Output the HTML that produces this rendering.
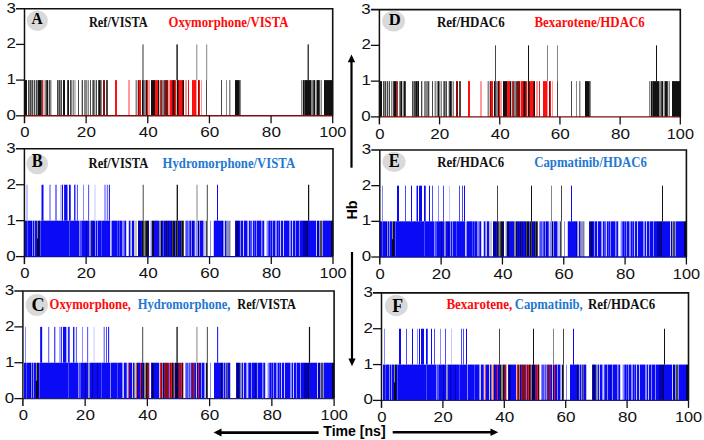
<!DOCTYPE html><html><head><meta charset="utf-8"><style>html,body{margin:0;padding:0;background:#fff;width:704px;height:440px;overflow:hidden}svg{display:block}.t{font-family:"Liberation Sans",sans-serif;font-size:14.6px;fill:#111}.h{font-family:"Liberation Serif",serif;font-weight:bold;font-size:13.5px}.l{font-family:"Liberation Serif",serif;font-weight:bold;font-size:17px;fill:#000}</style></head><body>
<svg width="704" height="440" viewBox="0 0 704 440">
<rect x="25" y="80.10" width="2" height="35.70" fill="#111111"/><rect x="28" y="80.10" width="1" height="35.70" fill="#464646"/><rect x="29" y="80.10" width="1" height="35.70" fill="#858585"/><rect x="30" y="80.10" width="1" height="35.70" fill="#464646"/><rect x="31" y="80.10" width="1" height="35.70" fill="#858585"/><rect x="32" y="80.10" width="1" height="35.70" fill="#464646"/><rect x="33" y="80.10" width="1" height="35.70" fill="#c4c4c4"/><rect x="34" y="80.10" width="1" height="35.70" fill="#464646"/><rect x="35" y="80.10" width="1" height="35.70" fill="#c4c4c4"/><rect x="36" y="80.10" width="1" height="35.70" fill="#464646"/><rect x="37" y="80.10" width="1" height="35.70" fill="#858585"/><rect x="38" y="80.10" width="3" height="35.70" fill="#111111"/><rect x="41" y="80.10" width="1" height="35.70" fill="#464646"/><rect x="42" y="80.10" width="1" height="35.70" fill="#ff1010"/><rect x="43" y="80.10" width="2" height="35.70" fill="#c4c4c4"/><rect x="45" y="80.10" width="1" height="35.70" fill="#858585"/><rect x="46" y="80.10" width="1" height="35.70" fill="#464646"/><rect x="47" y="80.10" width="1" height="35.70" fill="#111111"/><rect x="48" y="80.10" width="1" height="35.70" fill="#c4c4c4"/><rect x="49" y="80.10" width="1" height="35.70" fill="#464646"/><rect x="50" y="80.10" width="1" height="35.70" fill="#858585"/><rect x="51" y="80.10" width="1" height="35.70" fill="#c4c4c4"/><rect x="57" y="80.10" width="1" height="35.70" fill="#464646"/><rect x="58" y="80.10" width="1" height="35.70" fill="#858585"/><rect x="59" y="80.10" width="1" height="35.70" fill="#464646"/><rect x="60" y="80.10" width="1" height="35.70" fill="#858585"/><rect x="61" y="80.10" width="1" height="35.70" fill="#464646"/><rect x="63" y="80.10" width="2" height="35.70" fill="#111111"/><rect x="67" y="80.10" width="1" height="35.70" fill="#464646"/><rect x="68" y="80.10" width="1" height="35.70" fill="#111111"/><rect x="70" y="80.10" width="1" height="35.70" fill="#464646"/><rect x="71" y="80.10" width="1" height="35.70" fill="#858585"/><rect x="72" y="80.10" width="1" height="35.70" fill="#c4c4c4"/><rect x="73" y="80.10" width="1" height="35.70" fill="#858585"/><rect x="74" y="80.10" width="2" height="35.70" fill="#c4c4c4"/><rect x="78" y="80.10" width="1" height="35.70" fill="#464646"/><rect x="81" y="80.10" width="1" height="35.70" fill="#c4c4c4"/><rect x="82" y="80.10" width="1" height="35.70" fill="#464646"/><rect x="84" y="80.10" width="3" height="35.70" fill="#858585"/><rect x="87" y="80.10" width="1" height="35.70" fill="#c4c4c4"/><rect x="88" y="80.10" width="1" height="35.70" fill="#858585"/><rect x="90" y="80.10" width="1" height="35.70" fill="#464646"/><rect x="92" y="80.10" width="1" height="35.70" fill="#858585"/><rect x="93" y="80.10" width="1" height="35.70" fill="#464646"/><rect x="94" y="80.10" width="1" height="35.70" fill="#858585"/><rect x="95" y="80.10" width="1" height="35.70" fill="#c4c4c4"/><rect x="96" y="80.10" width="1" height="35.70" fill="#464646"/><rect x="98" y="80.10" width="1" height="35.70" fill="#464646"/><rect x="99" y="80.10" width="1" height="35.70" fill="#111111"/><rect x="100" y="80.10" width="1" height="35.70" fill="#464646"/><rect x="101" y="80.10" width="1" height="35.70" fill="#858585"/><rect x="103" y="80.10" width="2" height="35.70" fill="#8c0a0a"/><rect x="106" y="80.10" width="2" height="35.70" fill="#464646"/><rect x="115" y="80.10" width="2" height="35.70" fill="#ff1010"/><rect x="128" y="80.10" width="2" height="35.70" fill="#ff9a9a"/><rect x="135" y="80.10" width="1" height="35.70" fill="#c4c4c4"/><rect x="136" y="80.10" width="1" height="35.70" fill="#858585"/><rect x="137" y="80.10" width="1" height="35.70" fill="#c4c4c4"/><rect x="138" y="80.10" width="1" height="35.70" fill="#8c0a0a"/><rect x="139" y="80.10" width="2" height="35.70" fill="#ff1010"/><rect x="142" y="80.10" width="1" height="35.70" fill="#111111"/><rect x="143" y="80.10" width="1" height="35.70" fill="#464646"/><rect x="144" y="80.10" width="2" height="35.70" fill="#858585"/><rect x="146" y="80.10" width="1" height="35.70" fill="#111111"/><rect x="147" y="80.10" width="1" height="35.70" fill="#ff1010"/><rect x="148" y="80.10" width="2" height="35.70" fill="#ff9a9a"/><rect x="151" y="80.10" width="4" height="35.70" fill="#111111"/><rect x="155" y="80.10" width="3" height="35.70" fill="#ff1010"/><rect x="158" y="80.10" width="1" height="35.70" fill="#111111"/><rect x="159" y="80.10" width="1" height="35.70" fill="#c4c4c4"/><rect x="160" y="80.10" width="1" height="35.70" fill="#ff1010"/><rect x="161" y="80.10" width="1" height="35.70" fill="#464646"/><rect x="162" y="80.10" width="2" height="35.70" fill="#858585"/><rect x="164" y="80.10" width="1" height="35.70" fill="#464646"/><rect x="165" y="80.10" width="3" height="35.70" fill="#8c0a0a"/><rect x="168" y="80.10" width="2" height="35.70" fill="#ff9a9a"/><rect x="170" y="80.10" width="2" height="35.70" fill="#ff1010"/><rect x="172" y="80.10" width="1" height="35.70" fill="#8c0a0a"/><rect x="173" y="80.10" width="1" height="35.70" fill="#111111"/><rect x="174" y="80.10" width="1" height="35.70" fill="#8c0a0a"/><rect x="175" y="80.10" width="1" height="35.70" fill="#ff1010"/><rect x="176" y="80.10" width="1" height="35.70" fill="#c4c4c4"/><rect x="177" y="80.10" width="1" height="35.70" fill="#111111"/><rect x="178" y="80.10" width="1" height="35.70" fill="#8c0a0a"/><rect x="179" y="80.10" width="3" height="35.70" fill="#ff1010"/><rect x="182" y="80.10" width="1" height="35.70" fill="#8c0a0a"/><rect x="183" y="80.10" width="1" height="35.70" fill="#111111"/><rect x="185" y="80.10" width="2" height="35.70" fill="#ff9a9a"/><rect x="188" y="80.10" width="1" height="35.70" fill="#ff1010"/><rect x="192" y="80.10" width="4" height="35.70" fill="#ff1010"/><rect x="196" y="80.10" width="1" height="35.70" fill="#ff9a9a"/><rect x="198" y="80.10" width="1" height="35.70" fill="#8c0a0a"/><rect x="199" y="80.10" width="1" height="35.70" fill="#ff1010"/><rect x="201" y="80.10" width="1" height="35.70" fill="#ff9a9a"/><rect x="206" y="80.10" width="1" height="35.70" fill="#464646"/><rect x="221" y="80.10" width="1" height="35.70" fill="#464646"/><rect x="226" y="80.10" width="1" height="35.70" fill="#858585"/><rect x="229" y="80.10" width="1" height="35.70" fill="#858585"/><rect x="230" y="80.10" width="1" height="35.70" fill="#c4c4c4"/><rect x="235" y="80.10" width="4" height="35.70" fill="#111111"/><rect x="239" y="80.10" width="1" height="35.70" fill="#464646"/><rect x="240" y="80.10" width="1" height="35.70" fill="#858585"/><rect x="301" y="80.10" width="1" height="35.70" fill="#858585"/><rect x="302" y="80.10" width="1" height="35.70" fill="#c4c4c4"/><rect x="303" y="80.10" width="1" height="35.70" fill="#111111"/><rect x="304" y="80.10" width="1" height="35.70" fill="#464646"/><rect x="305" y="80.10" width="6" height="35.70" fill="#111111"/><rect x="311" y="80.10" width="2" height="35.70" fill="#858585"/><rect x="313" y="80.10" width="1" height="35.70" fill="#464646"/><rect x="314" y="80.10" width="1" height="35.70" fill="#111111"/><rect x="315" y="80.10" width="1" height="35.70" fill="#c4c4c4"/><rect x="316" y="80.10" width="1" height="35.70" fill="#858585"/><rect x="317" y="80.10" width="2" height="35.70" fill="#111111"/><rect x="319" y="80.10" width="1" height="35.70" fill="#464646"/><rect x="320" y="80.10" width="1" height="35.70" fill="#c4c4c4"/><rect x="321" y="80.10" width="1" height="35.70" fill="#858585"/><rect x="324" y="80.10" width="9" height="35.70" fill="#111111"/><rect x="142.45" y="44.40" width="1.1" height="35.70" fill="#464646"/><rect x="176.40" y="44.40" width="1.4" height="35.70" fill="#111111"/><rect x="196.30" y="44.40" width="1.0" height="35.70" fill="#858585"/><rect x="206.20" y="44.40" width="1.0" height="35.70" fill="#858585"/><rect x="307.60" y="44.40" width="1.2" height="35.70" fill="#111111"/>
<line x1="24.5" y1="115.8" x2="332.7" y2="115.8" stroke="#7a1010" stroke-width="1.4"/>
<path d="M16.0 8.7H332.7V115.8" fill="none" stroke="#111" stroke-width="1.6"/>
<path d="M24.5 8.7V123.3" fill="none" stroke="#111" stroke-width="1.5"/>
<path d="M16.0 115.80H24.5" stroke="#111" stroke-width="1.3"/>
<path d="M16.0 80.10H24.5" stroke="#111" stroke-width="1.3"/>
<path d="M16.0 44.40H24.5" stroke="#111" stroke-width="1.3"/>
<path d="M86.14 115.8V123.3" stroke="#111" stroke-width="1.3"/>
<path d="M147.78 115.8V123.3" stroke="#111" stroke-width="1.3"/>
<path d="M209.42 115.8V123.3" stroke="#111" stroke-width="1.3"/>
<path d="M271.06 115.8V123.3" stroke="#111" stroke-width="1.3"/>
<path d="M332.70 115.8V123.3" stroke="#111" stroke-width="1.3"/>
<text class="t" x="6.42" y="119.80" textLength="9.43" lengthAdjust="spacingAndGlyphs">0</text>
<text class="t" x="6.57" y="84.10" textLength="9.43" lengthAdjust="spacingAndGlyphs">1</text>
<text class="t" x="6.57" y="48.40" textLength="9.43" lengthAdjust="spacingAndGlyphs">2</text>
<text class="t" x="6.42" y="12.70" textLength="9.43" lengthAdjust="spacingAndGlyphs">3</text>
<text class="t" x="20.30" y="137.40" textLength="9.27" lengthAdjust="spacingAndGlyphs">0</text>
<text class="t" x="76.88" y="137.40" textLength="19.03" lengthAdjust="spacingAndGlyphs">20</text>
<text class="t" x="138.74" y="137.40" textLength="19.03" lengthAdjust="spacingAndGlyphs">40</text>
<text class="t" x="200.16" y="137.40" textLength="19.03" lengthAdjust="spacingAndGlyphs">60</text>
<text class="t" x="261.88" y="137.40" textLength="19.03" lengthAdjust="spacingAndGlyphs">80</text>
<text class="t" x="319.18" y="137.40" textLength="27.21" lengthAdjust="spacingAndGlyphs">100</text>
<ellipse cx="37.35" cy="20.7" rx="10.55" ry="10.2" fill="#d9d9d9"/>
<text class="l" x="31.49" y="23.7" style="font-size:16.84px" textLength="11.10" lengthAdjust="spacingAndGlyphs">A</text>
<text class="h" x="88.98" y="27.1" fill="#111" style="font-size:13.8px" textLength="58.68" lengthAdjust="spacingAndGlyphs">Ref/VISTA</text>
<text class="h" x="168.53" y="27.1" fill="#ff0a0a" style="font-size:13.8px" textLength="119.87" lengthAdjust="spacingAndGlyphs">Oxymorphone/VISTA</text>
<rect x="25" y="220.67" width="2" height="35.93" fill="#0a0af5"/><rect x="27" y="220.67" width="1" height="35.93" fill="#4a4aff"/><rect x="28" y="220.67" width="3" height="35.93" fill="#0a0af5"/><rect x="31" y="220.67" width="1" height="35.93" fill="#0000b0"/><rect x="32" y="220.67" width="1" height="35.93" fill="#8a8aff"/><rect x="33" y="220.67" width="1" height="35.93" fill="#0a0af5"/><rect x="34" y="220.67" width="1" height="35.93" fill="#8a8aff"/><rect x="35" y="220.67" width="2" height="35.93" fill="#0a0af5"/><rect x="37" y="220.67" width="1" height="35.93" fill="#858585"/><rect x="38" y="220.67" width="1" height="35.93" fill="#111111"/><rect x="39" y="220.67" width="1" height="35.93" fill="#0000b0"/><rect x="40" y="220.67" width="1" height="35.93" fill="#4a4aff"/><rect x="41" y="220.67" width="28" height="35.93" fill="#0a0af5"/><rect x="69" y="220.67" width="1" height="35.93" fill="#4a4aff"/><rect x="70" y="220.67" width="9" height="35.93" fill="#0a0af5"/><rect x="79" y="220.67" width="1" height="35.93" fill="#8a8aff"/><rect x="80" y="220.67" width="2" height="35.93" fill="#4a4aff"/><rect x="82" y="220.67" width="4" height="35.93" fill="#0a0af5"/><rect x="86" y="220.67" width="1" height="35.93" fill="#0000b0"/><rect x="87" y="220.67" width="2" height="35.93" fill="#0a0af5"/><rect x="89" y="220.67" width="1" height="35.93" fill="#8a8aff"/><rect x="90" y="220.67" width="1" height="35.93" fill="#858585"/><rect x="91" y="220.67" width="2" height="35.93" fill="#0a0af5"/><rect x="93" y="220.67" width="1" height="35.93" fill="#0000b0"/><rect x="94" y="220.67" width="1" height="35.93" fill="#0a0af5"/><rect x="95" y="220.67" width="1" height="35.93" fill="#8a8aff"/><rect x="96" y="220.67" width="1" height="35.93" fill="#0a0af5"/><rect x="97" y="220.67" width="1" height="35.93" fill="#8a8aff"/><rect x="98" y="220.67" width="3" height="35.93" fill="#0a0af5"/><rect x="101" y="220.67" width="1" height="35.93" fill="#4a4aff"/><rect x="102" y="220.67" width="8" height="35.93" fill="#0a0af5"/><rect x="110" y="220.67" width="1" height="35.93" fill="#c8c8ff"/><rect x="111" y="220.67" width="1" height="35.93" fill="#8a8aff"/><rect x="112" y="220.67" width="5" height="35.93" fill="#0a0af5"/><rect x="117" y="220.67" width="1" height="35.93" fill="#4a4aff"/><rect x="118" y="220.67" width="1" height="35.93" fill="#0a0af5"/><rect x="119" y="220.67" width="1" height="35.93" fill="#4a4aff"/><rect x="120" y="220.67" width="2" height="35.93" fill="#0a0af5"/><rect x="122" y="220.67" width="2" height="35.93" fill="#8a8aff"/><rect x="124" y="220.67" width="1" height="35.93" fill="#4a4aff"/><rect x="125" y="220.67" width="1" height="35.93" fill="#0a0af5"/><rect x="126" y="220.67" width="1" height="35.93" fill="#c8c8ff"/><rect x="128" y="220.67" width="1" height="35.93" fill="#c8c8ff"/><rect x="129" y="220.67" width="1" height="35.93" fill="#0a0af5"/><rect x="130" y="220.67" width="1" height="35.93" fill="#8a8aff"/><rect x="131" y="220.67" width="1" height="35.93" fill="#c8c8ff"/><rect x="132" y="220.67" width="2" height="35.93" fill="#0a0af5"/><rect x="134" y="220.67" width="3" height="35.93" fill="#c4c4c4"/><rect x="138" y="220.67" width="3" height="35.93" fill="#0000b0"/><rect x="141" y="220.67" width="1" height="35.93" fill="#0a0af5"/><rect x="142" y="220.67" width="1" height="35.93" fill="#111111"/><rect x="143" y="220.67" width="1" height="35.93" fill="#464646"/><rect x="144" y="220.67" width="1" height="35.93" fill="#858585"/><rect x="145" y="220.67" width="1" height="35.93" fill="#464646"/><rect x="146" y="220.67" width="2" height="35.93" fill="#111111"/><rect x="148" y="220.67" width="1" height="35.93" fill="#0000b0"/><rect x="150" y="220.67" width="1" height="35.93" fill="#c8c8ff"/><rect x="151" y="220.67" width="1" height="35.93" fill="#8a8aff"/><rect x="152" y="220.67" width="1" height="35.93" fill="#111111"/><rect x="153" y="220.67" width="1" height="35.93" fill="#00004a"/><rect x="154" y="220.67" width="5" height="35.93" fill="#0a0af5"/><rect x="159" y="220.67" width="2" height="35.93" fill="#858585"/><rect x="161" y="220.67" width="1" height="35.93" fill="#00004a"/><rect x="162" y="220.67" width="1" height="35.93" fill="#0a0af5"/><rect x="163" y="220.67" width="1" height="35.93" fill="#4a4aff"/><rect x="164" y="220.67" width="1" height="35.93" fill="#0000b0"/><rect x="165" y="220.67" width="1" height="35.93" fill="#0a0af5"/><rect x="166" y="220.67" width="1" height="35.93" fill="#111111"/><rect x="167" y="220.67" width="1" height="35.93" fill="#0a0af5"/><rect x="168" y="220.67" width="1" height="35.93" fill="#0000b0"/><rect x="169" y="220.67" width="2" height="35.93" fill="#0a0af5"/><rect x="171" y="220.67" width="1" height="35.93" fill="#0000b0"/><rect x="172" y="220.67" width="1" height="35.93" fill="#464646"/><rect x="173" y="220.67" width="1" height="35.93" fill="#111111"/><rect x="174" y="220.67" width="1" height="35.93" fill="#00004a"/><rect x="175" y="220.67" width="1" height="35.93" fill="#4a4aff"/><rect x="176" y="220.67" width="1" height="35.93" fill="#111111"/><rect x="177" y="220.67" width="1" height="35.93" fill="#464646"/><rect x="178" y="220.67" width="1" height="35.93" fill="#0000b0"/><rect x="179" y="220.67" width="1" height="35.93" fill="#0a0af5"/><rect x="180" y="220.67" width="1" height="35.93" fill="#0000b0"/><rect x="181" y="220.67" width="1" height="35.93" fill="#464646"/><rect x="182" y="220.67" width="1" height="35.93" fill="#111111"/><rect x="183" y="220.67" width="1" height="35.93" fill="#464646"/><rect x="185" y="220.67" width="1" height="35.93" fill="#8a8aff"/><rect x="186" y="220.67" width="2" height="35.93" fill="#4a4aff"/><rect x="188" y="220.67" width="1" height="35.93" fill="#8a8aff"/><rect x="189" y="220.67" width="1" height="35.93" fill="#4a4aff"/><rect x="190" y="220.67" width="1" height="35.93" fill="#0a0af5"/><rect x="191" y="220.67" width="1" height="35.93" fill="#8a8aff"/><rect x="192" y="220.67" width="1" height="35.93" fill="#0000b0"/><rect x="193" y="220.67" width="1" height="35.93" fill="#0a0af5"/><rect x="194" y="220.67" width="1" height="35.93" fill="#4a4aff"/><rect x="195" y="220.67" width="1" height="35.93" fill="#c8c8ff"/><rect x="196" y="220.67" width="2" height="35.93" fill="#8a8aff"/><rect x="198" y="220.67" width="1" height="35.93" fill="#00004a"/><rect x="199" y="220.67" width="1" height="35.93" fill="#8a8aff"/><rect x="200" y="220.67" width="3" height="35.93" fill="#0a0af5"/><rect x="203" y="220.67" width="1" height="35.93" fill="#8a8aff"/><rect x="204" y="220.67" width="2" height="35.93" fill="#c8c8ff"/><rect x="206" y="220.67" width="1" height="35.93" fill="#464646"/><rect x="207" y="220.67" width="1" height="35.93" fill="#858585"/><rect x="210" y="220.67" width="1" height="35.93" fill="#8a8aff"/><rect x="213" y="220.67" width="1" height="35.93" fill="#c8c8ff"/><rect x="214" y="220.67" width="8" height="35.93" fill="#0a0af5"/><rect x="222" y="220.67" width="1" height="35.93" fill="#0000b0"/><rect x="223" y="220.67" width="1" height="35.93" fill="#8a8aff"/><rect x="224" y="220.67" width="1" height="35.93" fill="#c8c8ff"/><rect x="225" y="220.67" width="1" height="35.93" fill="#0a0af5"/><rect x="226" y="220.67" width="1" height="35.93" fill="#858585"/><rect x="227" y="220.67" width="2" height="35.93" fill="#8a8aff"/><rect x="229" y="220.67" width="1" height="35.93" fill="#858585"/><rect x="230" y="220.67" width="1" height="35.93" fill="#c4c4c4"/><rect x="235" y="220.67" width="1" height="35.93" fill="#0a0af5"/><rect x="236" y="220.67" width="1" height="35.93" fill="#0000b0"/><rect x="237" y="220.67" width="1" height="35.93" fill="#00004a"/><rect x="238" y="220.67" width="1" height="35.93" fill="#0000b0"/><rect x="239" y="220.67" width="1" height="35.93" fill="#0a0af5"/><rect x="240" y="220.67" width="1" height="35.93" fill="#8a8aff"/><rect x="241" y="220.67" width="2" height="35.93" fill="#0a0af5"/><rect x="243" y="220.67" width="1" height="35.93" fill="#c8c8ff"/><rect x="244" y="220.67" width="3" height="35.93" fill="#0a0af5"/><rect x="247" y="220.67" width="1" height="35.93" fill="#8a8aff"/><rect x="248" y="220.67" width="1" height="35.93" fill="#c8c8ff"/><rect x="249" y="220.67" width="1" height="35.93" fill="#0a0af5"/><rect x="250" y="220.67" width="2" height="35.93" fill="#4a4aff"/><rect x="252" y="220.67" width="1" height="35.93" fill="#c8c8ff"/><rect x="253" y="220.67" width="1" height="35.93" fill="#0a0af5"/><rect x="254" y="220.67" width="1" height="35.93" fill="#4a4aff"/><rect x="255" y="220.67" width="1" height="35.93" fill="#0a0af5"/><rect x="256" y="220.67" width="1" height="35.93" fill="#8a8aff"/><rect x="257" y="220.67" width="4" height="35.93" fill="#0a0af5"/><rect x="261" y="220.67" width="1" height="35.93" fill="#8a8aff"/><rect x="262" y="220.67" width="1" height="35.93" fill="#4a4aff"/><rect x="263" y="220.67" width="1" height="35.93" fill="#0a0af5"/><rect x="264" y="220.67" width="1" height="35.93" fill="#c8c8ff"/><rect x="266" y="220.67" width="1" height="35.93" fill="#c8c8ff"/><rect x="267" y="220.67" width="1" height="35.93" fill="#8a8aff"/><rect x="268" y="220.67" width="1" height="35.93" fill="#4a4aff"/><rect x="269" y="220.67" width="1" height="35.93" fill="#0a0af5"/><rect x="270" y="220.67" width="1" height="35.93" fill="#4a4aff"/><rect x="271" y="220.67" width="1" height="35.93" fill="#0a0af5"/><rect x="272" y="220.67" width="1" height="35.93" fill="#8a8aff"/><rect x="273" y="220.67" width="2" height="35.93" fill="#0a0af5"/><rect x="275" y="220.67" width="2" height="35.93" fill="#8a8aff"/><rect x="277" y="220.67" width="1" height="35.93" fill="#0a0af5"/><rect x="278" y="220.67" width="1" height="35.93" fill="#4a4aff"/><rect x="279" y="220.67" width="1" height="35.93" fill="#0a0af5"/><rect x="280" y="220.67" width="1" height="35.93" fill="#c8c8ff"/><rect x="281" y="220.67" width="2" height="35.93" fill="#0a0af5"/><rect x="283" y="220.67" width="1" height="35.93" fill="#c8c8ff"/><rect x="284" y="220.67" width="5" height="35.93" fill="#0a0af5"/><rect x="289" y="220.67" width="2" height="35.93" fill="#8a8aff"/><rect x="291" y="220.67" width="1" height="35.93" fill="#0a0af5"/><rect x="292" y="220.67" width="1" height="35.93" fill="#c8c8ff"/><rect x="293" y="220.67" width="2" height="35.93" fill="#0a0af5"/><rect x="295" y="220.67" width="1" height="35.93" fill="#8a8aff"/><rect x="296" y="220.67" width="3" height="35.93" fill="#0a0af5"/><rect x="299" y="220.67" width="1" height="35.93" fill="#8a8aff"/><rect x="300" y="220.67" width="3" height="35.93" fill="#0a0af5"/><rect x="303" y="220.67" width="4" height="35.93" fill="#0000b0"/><rect x="307" y="220.67" width="1" height="35.93" fill="#00004a"/><rect x="308" y="220.67" width="8" height="35.93" fill="#0a0af5"/><rect x="316" y="220.67" width="1" height="35.93" fill="#c8c8ff"/><rect x="317" y="220.67" width="2" height="35.93" fill="#0000b0"/><rect x="319" y="220.67" width="1" height="35.93" fill="#8a8aff"/><rect x="320" y="220.67" width="2" height="35.93" fill="#464646"/><rect x="322" y="220.67" width="1" height="35.93" fill="#8a8aff"/><rect x="323" y="220.67" width="8" height="35.93" fill="#0a0af5"/><rect x="331" y="220.67" width="2" height="35.93" fill="#00004a"/><rect x="37" y="238.63" width="1" height="17.97" fill="#0a0a0a"/><rect x="38" y="238.63" width="1" height="17.97" fill="#0a0a0a"/><rect x="26.50" y="184.73" width="1" height="35.93" fill="#8a8aff"/><rect x="41.50" y="184.73" width="2" height="35.93" fill="#0a0af5"/><rect x="49.50" y="184.73" width="1" height="35.93" fill="#4a4aff"/><rect x="55.50" y="184.73" width="1" height="35.93" fill="#0a0af5"/><rect x="60.50" y="184.73" width="1" height="35.93" fill="#8a8aff"/><rect x="62.00" y="184.73" width="1" height="35.93" fill="#0a0af5"/><rect x="64.10" y="184.73" width="3.4" height="35.93" fill="#0a0af5"/><rect x="69.00" y="184.73" width="1" height="35.93" fill="#0a0af5"/><rect x="70.00" y="184.73" width="1" height="35.93" fill="#4a4aff"/><rect x="74.15" y="184.73" width="1.3" height="35.93" fill="#0a0af5"/><rect x="76.90" y="184.73" width="1" height="35.93" fill="#4a4aff"/><rect x="83.00" y="184.73" width="1" height="35.93" fill="#8a8aff"/><rect x="88.10" y="184.73" width="1" height="35.93" fill="#4a4aff"/><rect x="94.50" y="184.73" width="1" height="35.93" fill="#c8c8ff"/><rect x="104.50" y="184.73" width="1" height="35.93" fill="#4a4aff"/><rect x="106.80" y="184.73" width="1" height="35.93" fill="#4a4aff"/><rect x="108.90" y="184.73" width="1" height="35.93" fill="#0a0af5"/><rect x="142.70" y="184.73" width="1" height="35.93" fill="#464646"/><rect x="176.65" y="184.73" width="1.3" height="35.93" fill="#111111"/><rect x="196.50" y="184.73" width="1" height="35.93" fill="#858585"/><rect x="206.80" y="184.73" width="1" height="35.93" fill="#464646"/><rect x="217.00" y="184.73" width="1" height="35.93" fill="#0a0af5"/><rect x="308.00" y="184.73" width="1.2" height="35.93" fill="#111111"/>
<line x1="24.4" y1="256.6" x2="333.0" y2="256.6" stroke="#1010a0" stroke-width="1.4"/>
<path d="M15.899999999999999 148.8H333.0V256.6" fill="none" stroke="#111" stroke-width="1.6"/>
<path d="M24.4 148.8V264.1" fill="none" stroke="#111" stroke-width="1.5"/>
<path d="M15.899999999999999 256.60H24.4" stroke="#111" stroke-width="1.3"/>
<path d="M15.899999999999999 220.67H24.4" stroke="#111" stroke-width="1.3"/>
<path d="M15.899999999999999 184.73H24.4" stroke="#111" stroke-width="1.3"/>
<path d="M86.12 256.6V264.1" stroke="#111" stroke-width="1.3"/>
<path d="M147.84 256.6V264.1" stroke="#111" stroke-width="1.3"/>
<path d="M209.56 256.6V264.1" stroke="#111" stroke-width="1.3"/>
<path d="M271.28 256.6V264.1" stroke="#111" stroke-width="1.3"/>
<path d="M333.00 256.6V264.1" stroke="#111" stroke-width="1.3"/>
<text class="t" x="6.32" y="260.60" textLength="9.43" lengthAdjust="spacingAndGlyphs">0</text>
<text class="t" x="6.47" y="224.67" textLength="9.43" lengthAdjust="spacingAndGlyphs">1</text>
<text class="t" x="6.47" y="188.73" textLength="9.43" lengthAdjust="spacingAndGlyphs">2</text>
<text class="t" x="6.32" y="152.80" textLength="9.43" lengthAdjust="spacingAndGlyphs">3</text>
<text class="t" x="20.20" y="278.20" textLength="9.27" lengthAdjust="spacingAndGlyphs">0</text>
<text class="t" x="76.86" y="278.20" textLength="19.03" lengthAdjust="spacingAndGlyphs">20</text>
<text class="t" x="138.80" y="278.20" textLength="19.03" lengthAdjust="spacingAndGlyphs">40</text>
<text class="t" x="200.30" y="278.20" textLength="19.03" lengthAdjust="spacingAndGlyphs">60</text>
<text class="t" x="262.10" y="278.20" textLength="19.03" lengthAdjust="spacingAndGlyphs">80</text>
<text class="t" x="319.48" y="278.20" textLength="27.21" lengthAdjust="spacingAndGlyphs">100</text>
<ellipse cx="37.2" cy="163.85" rx="10.7" ry="10.35" fill="#d9d9d9"/>
<text class="l" x="31.67" y="167.1" style="font-size:17.89px" textLength="10.92" lengthAdjust="spacingAndGlyphs">B</text>
<text class="h" x="88.58" y="167.5" fill="#111" style="font-size:14.1px" textLength="59.65" lengthAdjust="spacingAndGlyphs">Ref/VISTA</text>
<text class="h" x="162.57" y="167.5" fill="#1f78d1" style="font-size:14.1px" textLength="132.54" lengthAdjust="spacingAndGlyphs">Hydromorphone/VISTA</text>
<rect x="24" y="362.73" width="2" height="35.87" fill="#0a0af5"/><rect x="26" y="362.73" width="1" height="35.87" fill="#4a4aff"/><rect x="27" y="362.73" width="3" height="35.87" fill="#0a0af5"/><rect x="30" y="362.73" width="1" height="35.87" fill="#0000b0"/><rect x="31" y="362.73" width="1" height="35.87" fill="#8a8aff"/><rect x="32" y="362.73" width="1" height="35.87" fill="#0a0af5"/><rect x="33" y="362.73" width="1" height="35.87" fill="#8a8aff"/><rect x="34" y="362.73" width="2" height="35.87" fill="#0a0af5"/><rect x="36" y="362.73" width="1" height="35.87" fill="#858585"/><rect x="37" y="362.73" width="1" height="35.87" fill="#111111"/><rect x="38" y="362.73" width="1" height="35.87" fill="#0000b0"/><rect x="39" y="362.73" width="1" height="35.87" fill="#4a4aff"/><rect x="40" y="362.73" width="28" height="35.87" fill="#0a0af5"/><rect x="68" y="362.73" width="1" height="35.87" fill="#4a4aff"/><rect x="69" y="362.73" width="9" height="35.87" fill="#0a0af5"/><rect x="78" y="362.73" width="1" height="35.87" fill="#8a8aff"/><rect x="79" y="362.73" width="2" height="35.87" fill="#4a4aff"/><rect x="81" y="362.73" width="4" height="35.87" fill="#0a0af5"/><rect x="85" y="362.73" width="1" height="35.87" fill="#0000b0"/><rect x="86" y="362.73" width="2" height="35.87" fill="#0a0af5"/><rect x="88" y="362.73" width="1" height="35.87" fill="#8a8aff"/><rect x="89" y="362.73" width="1" height="35.87" fill="#858585"/><rect x="90" y="362.73" width="2" height="35.87" fill="#0a0af5"/><rect x="92" y="362.73" width="1" height="35.87" fill="#0000b0"/><rect x="93" y="362.73" width="4" height="35.87" fill="#0a0af5"/><rect x="97" y="362.73" width="1" height="35.87" fill="#0000b0"/><rect x="98" y="362.73" width="3" height="35.87" fill="#0a0af5"/><rect x="101" y="362.73" width="1" height="35.87" fill="#4a4aff"/><rect x="102" y="362.73" width="8" height="35.87" fill="#0a0af5"/><rect x="110" y="362.73" width="1" height="35.87" fill="#8a8aff"/><rect x="111" y="362.73" width="6" height="35.87" fill="#0a0af5"/><rect x="117" y="362.73" width="1" height="35.87" fill="#4a4aff"/><rect x="118" y="362.73" width="4" height="35.87" fill="#0a0af5"/><rect x="122" y="362.73" width="1" height="35.87" fill="#8a8aff"/><rect x="123" y="362.73" width="1" height="35.87" fill="#c8c8ff"/><rect x="124" y="362.73" width="2" height="35.87" fill="#0a0af5"/><rect x="126" y="362.73" width="1" height="35.87" fill="#4a4aff"/><rect x="127" y="362.73" width="1" height="35.87" fill="#c8c8ff"/><rect x="128" y="362.73" width="1" height="35.87" fill="#ff4a2a"/><rect x="129" y="362.73" width="3" height="35.87" fill="#0a0af5"/><rect x="132" y="362.73" width="1" height="35.87" fill="#c8c8ff"/><rect x="133" y="362.73" width="1" height="35.87" fill="#0a0af5"/><rect x="134" y="362.73" width="1" height="35.87" fill="#858585"/><rect x="135" y="362.73" width="1" height="35.87" fill="#c4c4c4"/><rect x="136" y="362.73" width="1" height="35.87" fill="#ff4a2a"/><rect x="137" y="362.73" width="1" height="35.87" fill="#0000b0"/><rect x="138" y="362.73" width="2" height="35.87" fill="#0a0af5"/><rect x="140" y="362.73" width="1" height="35.87" fill="#ff1010"/><rect x="141" y="362.73" width="1" height="35.87" fill="#0000b0"/><rect x="142" y="362.73" width="1" height="35.87" fill="#0a0af5"/><rect x="143" y="362.73" width="1" height="35.87" fill="#111111"/><rect x="144" y="362.73" width="2" height="35.87" fill="#858585"/><rect x="146" y="362.73" width="1" height="35.87" fill="#111111"/><rect x="147" y="362.73" width="1" height="35.87" fill="#8c0a0a"/><rect x="148" y="362.73" width="1" height="35.87" fill="#6a1a8a"/><rect x="149" y="362.73" width="1" height="35.87" fill="#ff9a9a"/><rect x="151" y="362.73" width="1" height="35.87" fill="#0a0af5"/><rect x="152" y="362.73" width="1" height="35.87" fill="#00004a"/><rect x="153" y="362.73" width="1" height="35.87" fill="#0000b0"/><rect x="154" y="362.73" width="5" height="35.87" fill="#0a0af5"/><rect x="159" y="362.73" width="1" height="35.87" fill="#c4c4c4"/><rect x="160" y="362.73" width="1" height="35.87" fill="#ff1010"/><rect x="161" y="362.73" width="1" height="35.87" fill="#8c0a0a"/><rect x="162" y="362.73" width="1" height="35.87" fill="#858585"/><rect x="163" y="362.73" width="1" height="35.87" fill="#0000b0"/><rect x="164" y="362.73" width="1" height="35.87" fill="#6a1a8a"/><rect x="165" y="362.73" width="3" height="35.87" fill="#8c0a0a"/><rect x="168" y="362.73" width="1" height="35.87" fill="#6a1a8a"/><rect x="169" y="362.73" width="1" height="35.87" fill="#b050c8"/><rect x="170" y="362.73" width="1" height="35.87" fill="#8c0a0a"/><rect x="171" y="362.73" width="1" height="35.87" fill="#ff1010"/><rect x="172" y="362.73" width="1" height="35.87" fill="#111111"/><rect x="173" y="362.73" width="1" height="35.87" fill="#464646"/><rect x="174" y="362.73" width="1" height="35.87" fill="#b050c8"/><rect x="175" y="362.73" width="3" height="35.87" fill="#00004a"/><rect x="178" y="362.73" width="1" height="35.87" fill="#8c0a0a"/><rect x="179" y="362.73" width="2" height="35.87" fill="#6a1a8a"/><rect x="181" y="362.73" width="1" height="35.87" fill="#ff1010"/><rect x="182" y="362.73" width="1" height="35.87" fill="#111111"/><rect x="183" y="362.73" width="1" height="35.87" fill="#ff9a9a"/><rect x="185" y="362.73" width="1" height="35.87" fill="#8a8aff"/><rect x="186" y="362.73" width="2" height="35.87" fill="#4a4aff"/><rect x="188" y="362.73" width="1" height="35.87" fill="#8a8aff"/><rect x="189" y="362.73" width="1" height="35.87" fill="#4a4aff"/><rect x="190" y="362.73" width="1" height="35.87" fill="#8a8aff"/><rect x="191" y="362.73" width="1" height="35.87" fill="#6a1a8a"/><rect x="192" y="362.73" width="1" height="35.87" fill="#8c0a0a"/><rect x="193" y="362.73" width="2" height="35.87" fill="#6a1a8a"/><rect x="195" y="362.73" width="1" height="35.87" fill="#0a0af5"/><rect x="196" y="362.73" width="1" height="35.87" fill="#c4c4c4"/><rect x="197" y="362.73" width="1" height="35.87" fill="#0000b0"/><rect x="198" y="362.73" width="1" height="35.87" fill="#ff1010"/><rect x="199" y="362.73" width="2" height="35.87" fill="#0a0af5"/><rect x="201" y="362.73" width="1" height="35.87" fill="#8a8aff"/><rect x="202" y="362.73" width="2" height="35.87" fill="#0a0af5"/><rect x="204" y="362.73" width="1" height="35.87" fill="#8a8aff"/><rect x="205" y="362.73" width="1" height="35.87" fill="#c8c8ff"/><rect x="206" y="362.73" width="1" height="35.87" fill="#111111"/><rect x="207" y="362.73" width="1" height="35.87" fill="#464646"/><rect x="210" y="362.73" width="1" height="35.87" fill="#8a8aff"/><rect x="214" y="362.73" width="7" height="35.87" fill="#0a0af5"/><rect x="221" y="362.73" width="1" height="35.87" fill="#00004a"/><rect x="222" y="362.73" width="1" height="35.87" fill="#0a0af5"/><rect x="223" y="362.73" width="1" height="35.87" fill="#8a8aff"/><rect x="224" y="362.73" width="1" height="35.87" fill="#0a0af5"/><rect x="225" y="362.73" width="1" height="35.87" fill="#8a8aff"/><rect x="226" y="362.73" width="1" height="35.87" fill="#464646"/><rect x="227" y="362.73" width="1" height="35.87" fill="#4a4aff"/><rect x="228" y="362.73" width="2" height="35.87" fill="#0a0af5"/><rect x="230" y="362.73" width="1" height="35.87" fill="#c4c4c4"/><rect x="236" y="362.73" width="1" height="35.87" fill="#0a0af5"/><rect x="237" y="362.73" width="2" height="35.87" fill="#00004a"/><rect x="239" y="362.73" width="1" height="35.87" fill="#0a0af5"/><rect x="240" y="362.73" width="1" height="35.87" fill="#858585"/><rect x="241" y="362.73" width="1" height="35.87" fill="#8a8aff"/><rect x="242" y="362.73" width="1" height="35.87" fill="#0a0af5"/><rect x="243" y="362.73" width="1" height="35.87" fill="#c8c8ff"/><rect x="244" y="362.73" width="2" height="35.87" fill="#0a0af5"/><rect x="246" y="362.73" width="1" height="35.87" fill="#8a8aff"/><rect x="247" y="362.73" width="1" height="35.87" fill="#c8c8ff"/><rect x="248" y="362.73" width="1" height="35.87" fill="#4a4aff"/><rect x="249" y="362.73" width="2" height="35.87" fill="#0a0af5"/><rect x="251" y="362.73" width="1" height="35.87" fill="#8a8aff"/><rect x="252" y="362.73" width="3" height="35.87" fill="#0a0af5"/><rect x="255" y="362.73" width="1" height="35.87" fill="#0000b0"/><rect x="256" y="362.73" width="1" height="35.87" fill="#0a0af5"/><rect x="257" y="362.73" width="1" height="35.87" fill="#8a8aff"/><rect x="258" y="362.73" width="4" height="35.87" fill="#0a0af5"/><rect x="262" y="362.73" width="1" height="35.87" fill="#8a8aff"/><rect x="263" y="362.73" width="1" height="35.87" fill="#4a4aff"/><rect x="264" y="362.73" width="1" height="35.87" fill="#0a0af5"/><rect x="265" y="362.73" width="1" height="35.87" fill="#c8c8ff"/><rect x="267" y="362.73" width="1" height="35.87" fill="#c8c8ff"/><rect x="268" y="362.73" width="1" height="35.87" fill="#8a8aff"/><rect x="269" y="362.73" width="1" height="35.87" fill="#4a4aff"/><rect x="270" y="362.73" width="1" height="35.87" fill="#0a0af5"/><rect x="271" y="362.73" width="1" height="35.87" fill="#4a4aff"/><rect x="272" y="362.73" width="1" height="35.87" fill="#0a0af5"/><rect x="273" y="362.73" width="1" height="35.87" fill="#8a8aff"/><rect x="274" y="362.73" width="2" height="35.87" fill="#0a0af5"/><rect x="276" y="362.73" width="2" height="35.87" fill="#8a8aff"/><rect x="278" y="362.73" width="1" height="35.87" fill="#0a0af5"/><rect x="279" y="362.73" width="1" height="35.87" fill="#4a4aff"/><rect x="280" y="362.73" width="1" height="35.87" fill="#0a0af5"/><rect x="281" y="362.73" width="1" height="35.87" fill="#c8c8ff"/><rect x="282" y="362.73" width="2" height="35.87" fill="#0a0af5"/><rect x="284" y="362.73" width="1" height="35.87" fill="#c8c8ff"/><rect x="285" y="362.73" width="5" height="35.87" fill="#0a0af5"/><rect x="290" y="362.73" width="2" height="35.87" fill="#8a8aff"/><rect x="292" y="362.73" width="1" height="35.87" fill="#0a0af5"/><rect x="293" y="362.73" width="1" height="35.87" fill="#c8c8ff"/><rect x="294" y="362.73" width="2" height="35.87" fill="#0a0af5"/><rect x="296" y="362.73" width="1" height="35.87" fill="#8a8aff"/><rect x="297" y="362.73" width="3" height="35.87" fill="#0a0af5"/><rect x="300" y="362.73" width="1" height="35.87" fill="#8a8aff"/><rect x="301" y="362.73" width="3" height="35.87" fill="#0a0af5"/><rect x="304" y="362.73" width="4" height="35.87" fill="#0000b0"/><rect x="308" y="362.73" width="1" height="35.87" fill="#00004a"/><rect x="309" y="362.73" width="8" height="35.87" fill="#0a0af5"/><rect x="317" y="362.73" width="1" height="35.87" fill="#c8c8ff"/><rect x="318" y="362.73" width="2" height="35.87" fill="#0000b0"/><rect x="320" y="362.73" width="1" height="35.87" fill="#8a8aff"/><rect x="321" y="362.73" width="2" height="35.87" fill="#464646"/><rect x="323" y="362.73" width="1" height="35.87" fill="#8a8aff"/><rect x="324" y="362.73" width="8" height="35.87" fill="#0a0af5"/><rect x="332" y="362.73" width="2" height="35.87" fill="#00004a"/><rect x="36" y="380.67" width="1" height="17.93" fill="#0a0a0a"/><rect x="37" y="380.67" width="1" height="17.93" fill="#0a0a0a"/><rect x="25.02" y="326.87" width="1" height="35.87" fill="#8a8aff"/><rect x="40.15" y="326.87" width="2" height="35.87" fill="#0a0af5"/><rect x="48.22" y="326.87" width="1" height="35.87" fill="#4a4aff"/><rect x="54.27" y="326.87" width="1" height="35.87" fill="#0a0af5"/><rect x="59.31" y="326.87" width="1" height="35.87" fill="#8a8aff"/><rect x="60.82" y="326.87" width="1" height="35.87" fill="#0a0af5"/><rect x="62.95" y="326.87" width="3.4" height="35.87" fill="#0a0af5"/><rect x="67.88" y="326.87" width="1" height="35.87" fill="#0a0af5"/><rect x="68.89" y="326.87" width="1" height="35.87" fill="#4a4aff"/><rect x="73.07" y="326.87" width="1.3" height="35.87" fill="#0a0af5"/><rect x="75.85" y="326.87" width="1" height="35.87" fill="#4a4aff"/><rect x="82.00" y="326.87" width="1" height="35.87" fill="#8a8aff"/><rect x="87.14" y="326.87" width="1" height="35.87" fill="#4a4aff"/><rect x="93.59" y="326.87" width="1" height="35.87" fill="#c8c8ff"/><rect x="103.68" y="326.87" width="1" height="35.87" fill="#4a4aff"/><rect x="106.00" y="326.87" width="1" height="35.87" fill="#4a4aff"/><rect x="108.12" y="326.87" width="1" height="35.87" fill="#0a0af5"/><rect x="142.20" y="326.87" width="1" height="35.87" fill="#464646"/><rect x="176.44" y="326.87" width="1.3" height="35.87" fill="#111111"/><rect x="196.45" y="326.87" width="1" height="35.87" fill="#858585"/><rect x="206.84" y="326.87" width="1" height="35.87" fill="#464646"/><rect x="217.13" y="326.87" width="1" height="35.87" fill="#0a0af5"/><rect x="308.89" y="326.87" width="1.2" height="35.87" fill="#111111"/>
<line x1="22.9" y1="398.6" x2="334.1" y2="398.6" stroke="#202070" stroke-width="1.4"/>
<path d="M14.399999999999999 291.0H334.1V398.6" fill="none" stroke="#111" stroke-width="1.6"/>
<path d="M22.9 291.0V406.1" fill="none" stroke="#111" stroke-width="1.5"/>
<path d="M14.399999999999999 398.60H22.9" stroke="#111" stroke-width="1.3"/>
<path d="M14.399999999999999 362.73H22.9" stroke="#111" stroke-width="1.3"/>
<path d="M14.399999999999999 326.87H22.9" stroke="#111" stroke-width="1.3"/>
<path d="M85.14 398.6V406.1" stroke="#111" stroke-width="1.3"/>
<path d="M147.38 398.6V406.1" stroke="#111" stroke-width="1.3"/>
<path d="M209.62 398.6V406.1" stroke="#111" stroke-width="1.3"/>
<path d="M271.86 398.6V406.1" stroke="#111" stroke-width="1.3"/>
<path d="M334.10 398.6V406.1" stroke="#111" stroke-width="1.3"/>
<text class="t" x="4.82" y="402.60" textLength="9.43" lengthAdjust="spacingAndGlyphs">0</text>
<text class="t" x="4.97" y="366.73" textLength="9.43" lengthAdjust="spacingAndGlyphs">1</text>
<text class="t" x="4.97" y="330.87" textLength="9.43" lengthAdjust="spacingAndGlyphs">2</text>
<text class="t" x="4.82" y="295.00" textLength="9.43" lengthAdjust="spacingAndGlyphs">3</text>
<text class="t" x="18.70" y="420.20" textLength="9.27" lengthAdjust="spacingAndGlyphs">0</text>
<text class="t" x="75.88" y="420.20" textLength="19.03" lengthAdjust="spacingAndGlyphs">20</text>
<text class="t" x="138.34" y="420.20" textLength="19.03" lengthAdjust="spacingAndGlyphs">40</text>
<text class="t" x="200.36" y="420.20" textLength="19.03" lengthAdjust="spacingAndGlyphs">60</text>
<text class="t" x="262.68" y="420.20" textLength="19.03" lengthAdjust="spacingAndGlyphs">80</text>
<text class="t" x="320.58" y="420.20" textLength="27.21" lengthAdjust="spacingAndGlyphs">100</text>
<ellipse cx="36.85" cy="305.0" rx="11.05" ry="10.9" fill="#d9d9d9"/>
<text class="l" x="31.42" y="310.6" style="font-size:18.20px" textLength="13.13" lengthAdjust="spacingAndGlyphs">C</text>
<text class="h" x="49.62" y="308.9" fill="#ff0a0a" style="font-size:13.6px" textLength="81.36" lengthAdjust="spacingAndGlyphs">Oxymorphone,</text>
<text class="h" x="137.77" y="308.9" fill="#1f78d1" style="font-size:13.6px" textLength="92.70" lengthAdjust="spacingAndGlyphs">Hydromorphone,</text>
<text class="h" x="237.37" y="308.9" fill="#111" style="font-size:13.6px" textLength="58.55" lengthAdjust="spacingAndGlyphs">Ref/VISTA</text>
<rect x="379" y="81.13" width="3" height="35.77" fill="#111111"/><rect x="383" y="81.13" width="1" height="35.77" fill="#464646"/><rect x="384" y="81.13" width="1" height="35.77" fill="#858585"/><rect x="385" y="81.13" width="1" height="35.77" fill="#464646"/><rect x="386" y="81.13" width="1" height="35.77" fill="#c4c4c4"/><rect x="387" y="81.13" width="1" height="35.77" fill="#464646"/><rect x="388" y="81.13" width="1" height="35.77" fill="#c4c4c4"/><rect x="389" y="81.13" width="1" height="35.77" fill="#464646"/><rect x="391" y="81.13" width="1" height="35.77" fill="#858585"/><rect x="392" y="81.13" width="1" height="35.77" fill="#c4c4c4"/><rect x="393" y="81.13" width="1" height="35.77" fill="#464646"/><rect x="394" y="81.13" width="2" height="35.77" fill="#111111"/><rect x="396" y="81.13" width="1" height="35.77" fill="#464646"/><rect x="397" y="81.13" width="1" height="35.77" fill="#ff1010"/><rect x="399" y="81.13" width="1" height="35.77" fill="#858585"/><rect x="400" y="81.13" width="1" height="35.77" fill="#464646"/><rect x="401" y="81.13" width="1" height="35.77" fill="#111111"/><rect x="402" y="81.13" width="1" height="35.77" fill="#c4c4c4"/><rect x="403" y="81.13" width="1" height="35.77" fill="#858585"/><rect x="404" y="81.13" width="1" height="35.77" fill="#111111"/><rect x="405" y="81.13" width="1" height="35.77" fill="#464646"/><rect x="412" y="81.13" width="1" height="35.77" fill="#464646"/><rect x="413" y="81.13" width="1" height="35.77" fill="#858585"/><rect x="414" y="81.13" width="2" height="35.77" fill="#464646"/><rect x="416" y="81.13" width="1" height="35.77" fill="#111111"/><rect x="417" y="81.13" width="1" height="35.77" fill="#464646"/><rect x="418" y="81.13" width="1" height="35.77" fill="#111111"/><rect x="421" y="81.13" width="1" height="35.77" fill="#464646"/><rect x="422" y="81.13" width="1" height="35.77" fill="#c4c4c4"/><rect x="424" y="81.13" width="4" height="35.77" fill="#858585"/><rect x="428" y="81.13" width="1" height="35.77" fill="#464646"/><rect x="429" y="81.13" width="1" height="35.77" fill="#c4c4c4"/><rect x="432" y="81.13" width="1" height="35.77" fill="#464646"/><rect x="434" y="81.13" width="1" height="35.77" fill="#c4c4c4"/><rect x="435" y="81.13" width="1" height="35.77" fill="#858585"/><rect x="436" y="81.13" width="1" height="35.77" fill="#c4c4c4"/><rect x="437" y="81.13" width="1" height="35.77" fill="#858585"/><rect x="438" y="81.13" width="1" height="35.77" fill="#111111"/><rect x="439" y="81.13" width="1" height="35.77" fill="#858585"/><rect x="440" y="81.13" width="1" height="35.77" fill="#c4c4c4"/><rect x="441" y="81.13" width="1" height="35.77" fill="#858585"/><rect x="443" y="81.13" width="1" height="35.77" fill="#858585"/><rect x="444" y="81.13" width="1" height="35.77" fill="#464646"/><rect x="445" y="81.13" width="1" height="35.77" fill="#858585"/><rect x="446" y="81.13" width="1" height="35.77" fill="#464646"/><rect x="448" y="81.13" width="1" height="35.77" fill="#c4c4c4"/><rect x="449" y="81.13" width="1" height="35.77" fill="#464646"/><rect x="450" y="81.13" width="1" height="35.77" fill="#111111"/><rect x="451" y="81.13" width="1" height="35.77" fill="#464646"/><rect x="452" y="81.13" width="1" height="35.77" fill="#c4c4c4"/><rect x="453" y="81.13" width="1" height="35.77" fill="#858585"/><rect x="456" y="81.13" width="2" height="35.77" fill="#8c0a0a"/><rect x="459" y="81.13" width="2" height="35.77" fill="#464646"/><rect x="468" y="81.13" width="2" height="35.77" fill="#ff1010"/><rect x="480" y="81.13" width="2" height="35.77" fill="#ff9a9a"/><rect x="487" y="81.13" width="1" height="35.77" fill="#c4c4c4"/><rect x="488" y="81.13" width="1" height="35.77" fill="#858585"/><rect x="489" y="81.13" width="1" height="35.77" fill="#c4c4c4"/><rect x="490" y="81.13" width="1" height="35.77" fill="#8c0a0a"/><rect x="491" y="81.13" width="2" height="35.77" fill="#ff1010"/><rect x="494" y="81.13" width="1" height="35.77" fill="#111111"/><rect x="495" y="81.13" width="1" height="35.77" fill="#464646"/><rect x="496" y="81.13" width="2" height="35.77" fill="#858585"/><rect x="498" y="81.13" width="1" height="35.77" fill="#111111"/><rect x="499" y="81.13" width="1" height="35.77" fill="#ff1010"/><rect x="500" y="81.13" width="2" height="35.77" fill="#ff9a9a"/><rect x="503" y="81.13" width="4" height="35.77" fill="#111111"/><rect x="507" y="81.13" width="3" height="35.77" fill="#ff1010"/><rect x="510" y="81.13" width="1" height="35.77" fill="#111111"/><rect x="511" y="81.13" width="1" height="35.77" fill="#c4c4c4"/><rect x="512" y="81.13" width="1" height="35.77" fill="#ff1010"/><rect x="513" y="81.13" width="1" height="35.77" fill="#464646"/><rect x="514" y="81.13" width="2" height="35.77" fill="#858585"/><rect x="516" y="81.13" width="1" height="35.77" fill="#464646"/><rect x="517" y="81.13" width="3" height="35.77" fill="#8c0a0a"/><rect x="520" y="81.13" width="1" height="35.77" fill="#ff9a9a"/><rect x="521" y="81.13" width="2" height="35.77" fill="#ff1010"/><rect x="523" y="81.13" width="1" height="35.77" fill="#8c0a0a"/><rect x="524" y="81.13" width="1" height="35.77" fill="#111111"/><rect x="525" y="81.13" width="1" height="35.77" fill="#8c0a0a"/><rect x="526" y="81.13" width="1" height="35.77" fill="#ff1010"/><rect x="527" y="81.13" width="1" height="35.77" fill="#c4c4c4"/><rect x="528" y="81.13" width="1" height="35.77" fill="#111111"/><rect x="529" y="81.13" width="1" height="35.77" fill="#8c0a0a"/><rect x="530" y="81.13" width="3" height="35.77" fill="#ff1010"/><rect x="533" y="81.13" width="1" height="35.77" fill="#8c0a0a"/><rect x="534" y="81.13" width="1" height="35.77" fill="#111111"/><rect x="536" y="81.13" width="2" height="35.77" fill="#ff9a9a"/><rect x="539" y="81.13" width="1" height="35.77" fill="#ff1010"/><rect x="543" y="81.13" width="4" height="35.77" fill="#ff1010"/><rect x="547" y="81.13" width="1" height="35.77" fill="#ff9a9a"/><rect x="549" y="81.13" width="1" height="35.77" fill="#8c0a0a"/><rect x="550" y="81.13" width="1" height="35.77" fill="#ff1010"/><rect x="552" y="81.13" width="1" height="35.77" fill="#ff9a9a"/><rect x="557" y="81.13" width="1" height="35.77" fill="#464646"/><rect x="571" y="81.13" width="1" height="35.77" fill="#464646"/><rect x="576" y="81.13" width="1" height="35.77" fill="#858585"/><rect x="579" y="81.13" width="1" height="35.77" fill="#858585"/><rect x="580" y="81.13" width="1" height="35.77" fill="#c4c4c4"/><rect x="585" y="81.13" width="4" height="35.77" fill="#111111"/><rect x="589" y="81.13" width="1" height="35.77" fill="#464646"/><rect x="590" y="81.13" width="1" height="35.77" fill="#858585"/><rect x="649" y="81.13" width="1" height="35.77" fill="#858585"/><rect x="650" y="81.13" width="1" height="35.77" fill="#c4c4c4"/><rect x="651" y="81.13" width="1" height="35.77" fill="#111111"/><rect x="652" y="81.13" width="1" height="35.77" fill="#464646"/><rect x="653" y="81.13" width="6" height="35.77" fill="#111111"/><rect x="659" y="81.13" width="2" height="35.77" fill="#858585"/><rect x="661" y="81.13" width="1" height="35.77" fill="#464646"/><rect x="662" y="81.13" width="1" height="35.77" fill="#111111"/><rect x="663" y="81.13" width="1" height="35.77" fill="#c4c4c4"/><rect x="664" y="81.13" width="1" height="35.77" fill="#858585"/><rect x="665" y="81.13" width="2" height="35.77" fill="#111111"/><rect x="667" y="81.13" width="1" height="35.77" fill="#464646"/><rect x="668" y="81.13" width="1" height="35.77" fill="#c4c4c4"/><rect x="669" y="81.13" width="1" height="35.77" fill="#858585"/><rect x="672" y="81.13" width="9" height="35.77" fill="#111111"/><rect x="495" y="45.37" width="1" height="35.77" fill="#464646"/><rect x="528" y="45.37" width="1" height="35.77" fill="#111111"/><rect x="547" y="45.37" width="1" height="35.77" fill="#858585"/><rect x="557" y="45.37" width="1" height="35.77" fill="#858585"/><rect x="656" y="45.37" width="1" height="35.77" fill="#111111"/>
<line x1="379.4" y1="116.9" x2="680.3" y2="116.9" stroke="#7a1010" stroke-width="1.4"/>
<path d="M370.9 9.6H680.3V116.9" fill="none" stroke="#111" stroke-width="1.6"/>
<path d="M379.4 9.6V124.4" fill="none" stroke="#111" stroke-width="1.5"/>
<path d="M370.9 116.90H379.4" stroke="#111" stroke-width="1.3"/>
<path d="M370.9 81.13H379.4" stroke="#111" stroke-width="1.3"/>
<path d="M370.9 45.37H379.4" stroke="#111" stroke-width="1.3"/>
<path d="M439.58 116.9V124.4" stroke="#111" stroke-width="1.3"/>
<path d="M499.76 116.9V124.4" stroke="#111" stroke-width="1.3"/>
<path d="M559.94 116.9V124.4" stroke="#111" stroke-width="1.3"/>
<path d="M620.12 116.9V124.4" stroke="#111" stroke-width="1.3"/>
<path d="M680.30 116.9V124.4" stroke="#111" stroke-width="1.3"/>
<text class="t" x="361.32" y="120.90" textLength="9.43" lengthAdjust="spacingAndGlyphs">0</text>
<text class="t" x="361.47" y="85.13" textLength="9.43" lengthAdjust="spacingAndGlyphs">1</text>
<text class="t" x="361.47" y="49.37" textLength="9.43" lengthAdjust="spacingAndGlyphs">2</text>
<text class="t" x="361.32" y="13.60" textLength="9.43" lengthAdjust="spacingAndGlyphs">3</text>
<text class="t" x="375.20" y="138.50" textLength="9.27" lengthAdjust="spacingAndGlyphs">0</text>
<text class="t" x="430.32" y="138.50" textLength="19.03" lengthAdjust="spacingAndGlyphs">20</text>
<text class="t" x="490.72" y="138.50" textLength="19.03" lengthAdjust="spacingAndGlyphs">40</text>
<text class="t" x="550.68" y="138.50" textLength="19.03" lengthAdjust="spacingAndGlyphs">60</text>
<text class="t" x="610.94" y="138.50" textLength="19.03" lengthAdjust="spacingAndGlyphs">80</text>
<text class="t" x="666.78" y="138.50" textLength="27.21" lengthAdjust="spacingAndGlyphs">100</text>
<ellipse cx="393.6" cy="21.2" rx="11.4" ry="10.4" fill="#d9d9d9"/>
<text class="l" x="388.75" y="25.4" style="font-size:16.84px" textLength="11.99" lengthAdjust="spacingAndGlyphs">D</text>
<text class="h" x="436.98" y="26.9" fill="#111" style="font-size:14.5px" textLength="67.72" lengthAdjust="spacingAndGlyphs">Ref/HDAC6</text>
<text class="h" x="534.48" y="26.9" fill="#ff0a0a" style="font-size:14.5px" textLength="110.37" lengthAdjust="spacingAndGlyphs">Bexarotene/HDAC6</text>
<rect x="380" y="221.33" width="2" height="35.67" fill="#0a0af5"/><rect x="382" y="221.33" width="1" height="35.67" fill="#4a4aff"/><rect x="383" y="221.33" width="3" height="35.67" fill="#0a0af5"/><rect x="386" y="221.33" width="1" height="35.67" fill="#0000b0"/><rect x="387" y="221.33" width="1" height="35.67" fill="#8a8aff"/><rect x="388" y="221.33" width="1" height="35.67" fill="#0a0af5"/><rect x="389" y="221.33" width="1" height="35.67" fill="#8a8aff"/><rect x="390" y="221.33" width="2" height="35.67" fill="#0a0af5"/><rect x="392" y="221.33" width="1" height="35.67" fill="#858585"/><rect x="393" y="221.33" width="1" height="35.67" fill="#111111"/><rect x="394" y="221.33" width="1" height="35.67" fill="#0000b0"/><rect x="395" y="221.33" width="1" height="35.67" fill="#4a4aff"/><rect x="396" y="221.33" width="28" height="35.67" fill="#0a0af5"/><rect x="424" y="221.33" width="1" height="35.67" fill="#4a4aff"/><rect x="425" y="221.33" width="9" height="35.67" fill="#0a0af5"/><rect x="434" y="221.33" width="1" height="35.67" fill="#8a8aff"/><rect x="435" y="221.33" width="2" height="35.67" fill="#4a4aff"/><rect x="437" y="221.33" width="4" height="35.67" fill="#0a0af5"/><rect x="441" y="221.33" width="1" height="35.67" fill="#0000b0"/><rect x="442" y="221.33" width="2" height="35.67" fill="#0a0af5"/><rect x="444" y="221.33" width="1" height="35.67" fill="#8a8aff"/><rect x="445" y="221.33" width="1" height="35.67" fill="#858585"/><rect x="446" y="221.33" width="2" height="35.67" fill="#0a0af5"/><rect x="448" y="221.33" width="1" height="35.67" fill="#0000b0"/><rect x="449" y="221.33" width="1" height="35.67" fill="#0a0af5"/><rect x="450" y="221.33" width="1" height="35.67" fill="#8a8aff"/><rect x="451" y="221.33" width="1" height="35.67" fill="#0a0af5"/><rect x="452" y="221.33" width="1" height="35.67" fill="#8a8aff"/><rect x="453" y="221.33" width="3" height="35.67" fill="#0a0af5"/><rect x="456" y="221.33" width="1" height="35.67" fill="#4a4aff"/><rect x="457" y="221.33" width="8" height="35.67" fill="#0a0af5"/><rect x="465" y="221.33" width="1" height="35.67" fill="#c8c8ff"/><rect x="466" y="221.33" width="1" height="35.67" fill="#8a8aff"/><rect x="467" y="221.33" width="5" height="35.67" fill="#0a0af5"/><rect x="472" y="221.33" width="1" height="35.67" fill="#4a4aff"/><rect x="473" y="221.33" width="1" height="35.67" fill="#0a0af5"/><rect x="474" y="221.33" width="1" height="35.67" fill="#4a4aff"/><rect x="475" y="221.33" width="2" height="35.67" fill="#0a0af5"/><rect x="477" y="221.33" width="2" height="35.67" fill="#8a8aff"/><rect x="479" y="221.33" width="1" height="35.67" fill="#4a4aff"/><rect x="480" y="221.33" width="1" height="35.67" fill="#0a0af5"/><rect x="481" y="221.33" width="1" height="35.67" fill="#c8c8ff"/><rect x="483" y="221.33" width="1" height="35.67" fill="#c8c8ff"/><rect x="484" y="221.33" width="1" height="35.67" fill="#0a0af5"/><rect x="485" y="221.33" width="1" height="35.67" fill="#8a8aff"/><rect x="486" y="221.33" width="1" height="35.67" fill="#c8c8ff"/><rect x="487" y="221.33" width="2" height="35.67" fill="#0a0af5"/><rect x="489" y="221.33" width="3" height="35.67" fill="#c4c4c4"/><rect x="493" y="221.33" width="3" height="35.67" fill="#0000b0"/><rect x="496" y="221.33" width="1" height="35.67" fill="#0a0af5"/><rect x="497" y="221.33" width="1" height="35.67" fill="#111111"/><rect x="498" y="221.33" width="1" height="35.67" fill="#464646"/><rect x="499" y="221.33" width="1" height="35.67" fill="#858585"/><rect x="500" y="221.33" width="1" height="35.67" fill="#464646"/><rect x="501" y="221.33" width="2" height="35.67" fill="#111111"/><rect x="503" y="221.33" width="1" height="35.67" fill="#0000b0"/><rect x="505" y="221.33" width="1" height="35.67" fill="#c8c8ff"/><rect x="506" y="221.33" width="1" height="35.67" fill="#8a8aff"/><rect x="507" y="221.33" width="1" height="35.67" fill="#111111"/><rect x="508" y="221.33" width="1" height="35.67" fill="#00004a"/><rect x="509" y="221.33" width="5" height="35.67" fill="#0a0af5"/><rect x="514" y="221.33" width="2" height="35.67" fill="#858585"/><rect x="516" y="221.33" width="1" height="35.67" fill="#00004a"/><rect x="517" y="221.33" width="1" height="35.67" fill="#0a0af5"/><rect x="518" y="221.33" width="1" height="35.67" fill="#0000b0"/><rect x="519" y="221.33" width="1" height="35.67" fill="#0a0af5"/><rect x="520" y="221.33" width="1" height="35.67" fill="#111111"/><rect x="521" y="221.33" width="1" height="35.67" fill="#0a0af5"/><rect x="522" y="221.33" width="1" height="35.67" fill="#0000b0"/><rect x="523" y="221.33" width="2" height="35.67" fill="#0a0af5"/><rect x="525" y="221.33" width="1" height="35.67" fill="#0000b0"/><rect x="526" y="221.33" width="1" height="35.67" fill="#464646"/><rect x="527" y="221.33" width="1" height="35.67" fill="#111111"/><rect x="528" y="221.33" width="1" height="35.67" fill="#00004a"/><rect x="529" y="221.33" width="1" height="35.67" fill="#4a4aff"/><rect x="530" y="221.33" width="1" height="35.67" fill="#111111"/><rect x="531" y="221.33" width="1" height="35.67" fill="#464646"/><rect x="532" y="221.33" width="1" height="35.67" fill="#0000b0"/><rect x="533" y="221.33" width="1" height="35.67" fill="#0a0af5"/><rect x="534" y="221.33" width="1" height="35.67" fill="#0000b0"/><rect x="535" y="221.33" width="1" height="35.67" fill="#464646"/><rect x="536" y="221.33" width="1" height="35.67" fill="#111111"/><rect x="537" y="221.33" width="1" height="35.67" fill="#464646"/><rect x="539" y="221.33" width="1" height="35.67" fill="#8a8aff"/><rect x="540" y="221.33" width="2" height="35.67" fill="#4a4aff"/><rect x="542" y="221.33" width="1" height="35.67" fill="#8a8aff"/><rect x="543" y="221.33" width="1" height="35.67" fill="#4a4aff"/><rect x="544" y="221.33" width="1" height="35.67" fill="#0a0af5"/><rect x="545" y="221.33" width="1" height="35.67" fill="#8a8aff"/><rect x="546" y="221.33" width="1" height="35.67" fill="#0000b0"/><rect x="547" y="221.33" width="1" height="35.67" fill="#0a0af5"/><rect x="548" y="221.33" width="1" height="35.67" fill="#4a4aff"/><rect x="549" y="221.33" width="1" height="35.67" fill="#c8c8ff"/><rect x="550" y="221.33" width="2" height="35.67" fill="#8a8aff"/><rect x="552" y="221.33" width="1" height="35.67" fill="#00004a"/><rect x="553" y="221.33" width="1" height="35.67" fill="#8a8aff"/><rect x="554" y="221.33" width="3" height="35.67" fill="#0a0af5"/><rect x="557" y="221.33" width="1" height="35.67" fill="#8a8aff"/><rect x="558" y="221.33" width="2" height="35.67" fill="#c8c8ff"/><rect x="560" y="221.33" width="1" height="35.67" fill="#464646"/><rect x="561" y="221.33" width="1" height="35.67" fill="#858585"/><rect x="564" y="221.33" width="1" height="35.67" fill="#8a8aff"/><rect x="567" y="221.33" width="1" height="35.67" fill="#c8c8ff"/><rect x="568" y="221.33" width="8" height="35.67" fill="#0a0af5"/><rect x="576" y="221.33" width="1" height="35.67" fill="#0000b0"/><rect x="577" y="221.33" width="1" height="35.67" fill="#8a8aff"/><rect x="578" y="221.33" width="1" height="35.67" fill="#c8c8ff"/><rect x="579" y="221.33" width="1" height="35.67" fill="#0a0af5"/><rect x="580" y="221.33" width="1" height="35.67" fill="#858585"/><rect x="581" y="221.33" width="2" height="35.67" fill="#8a8aff"/><rect x="583" y="221.33" width="1" height="35.67" fill="#858585"/><rect x="584" y="221.33" width="1" height="35.67" fill="#c4c4c4"/><rect x="589" y="221.33" width="1" height="35.67" fill="#0a0af5"/><rect x="590" y="221.33" width="1" height="35.67" fill="#0000b0"/><rect x="591" y="221.33" width="1" height="35.67" fill="#00004a"/><rect x="592" y="221.33" width="1" height="35.67" fill="#0000b0"/><rect x="593" y="221.33" width="1" height="35.67" fill="#0a0af5"/><rect x="594" y="221.33" width="1" height="35.67" fill="#8a8aff"/><rect x="595" y="221.33" width="2" height="35.67" fill="#0a0af5"/><rect x="597" y="221.33" width="1" height="35.67" fill="#c8c8ff"/><rect x="598" y="221.33" width="3" height="35.67" fill="#0a0af5"/><rect x="601" y="221.33" width="1" height="35.67" fill="#8a8aff"/><rect x="602" y="221.33" width="1" height="35.67" fill="#c8c8ff"/><rect x="603" y="221.33" width="1" height="35.67" fill="#0a0af5"/><rect x="604" y="221.33" width="2" height="35.67" fill="#4a4aff"/><rect x="606" y="221.33" width="1" height="35.67" fill="#c8c8ff"/><rect x="607" y="221.33" width="1" height="35.67" fill="#0a0af5"/><rect x="608" y="221.33" width="1" height="35.67" fill="#4a4aff"/><rect x="609" y="221.33" width="1" height="35.67" fill="#0a0af5"/><rect x="610" y="221.33" width="1" height="35.67" fill="#8a8aff"/><rect x="611" y="221.33" width="4" height="35.67" fill="#0a0af5"/><rect x="615" y="221.33" width="1" height="35.67" fill="#8a8aff"/><rect x="616" y="221.33" width="1" height="35.67" fill="#4a4aff"/><rect x="617" y="221.33" width="1" height="35.67" fill="#0a0af5"/><rect x="618" y="221.33" width="1" height="35.67" fill="#c8c8ff"/><rect x="620" y="221.33" width="1" height="35.67" fill="#c8c8ff"/><rect x="621" y="221.33" width="1" height="35.67" fill="#8a8aff"/><rect x="622" y="221.33" width="1" height="35.67" fill="#4a4aff"/><rect x="623" y="221.33" width="1" height="35.67" fill="#0a0af5"/><rect x="624" y="221.33" width="1" height="35.67" fill="#4a4aff"/><rect x="625" y="221.33" width="1" height="35.67" fill="#0a0af5"/><rect x="626" y="221.33" width="1" height="35.67" fill="#8a8aff"/><rect x="627" y="221.33" width="2" height="35.67" fill="#0a0af5"/><rect x="629" y="221.33" width="2" height="35.67" fill="#8a8aff"/><rect x="631" y="221.33" width="1" height="35.67" fill="#0a0af5"/><rect x="632" y="221.33" width="1" height="35.67" fill="#4a4aff"/><rect x="633" y="221.33" width="1" height="35.67" fill="#0a0af5"/><rect x="634" y="221.33" width="1" height="35.67" fill="#c8c8ff"/><rect x="635" y="221.33" width="2" height="35.67" fill="#0a0af5"/><rect x="637" y="221.33" width="1" height="35.67" fill="#c8c8ff"/><rect x="638" y="221.33" width="5" height="35.67" fill="#0a0af5"/><rect x="643" y="221.33" width="2" height="35.67" fill="#8a8aff"/><rect x="645" y="221.33" width="1" height="35.67" fill="#0a0af5"/><rect x="646" y="221.33" width="1" height="35.67" fill="#c8c8ff"/><rect x="647" y="221.33" width="2" height="35.67" fill="#0a0af5"/><rect x="649" y="221.33" width="1" height="35.67" fill="#8a8aff"/><rect x="650" y="221.33" width="3" height="35.67" fill="#0a0af5"/><rect x="653" y="221.33" width="1" height="35.67" fill="#8a8aff"/><rect x="654" y="221.33" width="3" height="35.67" fill="#0a0af5"/><rect x="657" y="221.33" width="4" height="35.67" fill="#0000b0"/><rect x="661" y="221.33" width="1" height="35.67" fill="#00004a"/><rect x="662" y="221.33" width="8" height="35.67" fill="#0a0af5"/><rect x="670" y="221.33" width="1" height="35.67" fill="#c8c8ff"/><rect x="671" y="221.33" width="1" height="35.67" fill="#0000b0"/><rect x="672" y="221.33" width="1" height="35.67" fill="#8a8aff"/><rect x="673" y="221.33" width="2" height="35.67" fill="#464646"/><rect x="675" y="221.33" width="1" height="35.67" fill="#8a8aff"/><rect x="676" y="221.33" width="8" height="35.67" fill="#0a0af5"/><rect x="684" y="221.33" width="2" height="35.67" fill="#00004a"/><rect x="392" y="239.17" width="1" height="17.83" fill="#0a0a0a"/><rect x="393" y="239.17" width="1" height="17.83" fill="#0a0a0a"/><rect x="382" y="185.67" width="1" height="35.67" fill="#8a8aff"/><rect x="397" y="185.67" width="2" height="35.67" fill="#0a0af5"/><rect x="405" y="185.67" width="1" height="35.67" fill="#4a4aff"/><rect x="411" y="185.67" width="1" height="35.67" fill="#0a0af5"/><rect x="416" y="185.67" width="1" height="35.67" fill="#8a8aff"/><rect x="417" y="185.67" width="1" height="35.67" fill="#0a0af5"/><rect x="419" y="185.67" width="3" height="35.67" fill="#0a0af5"/><rect x="424" y="185.67" width="1" height="35.67" fill="#0a0af5"/><rect x="425" y="185.67" width="1" height="35.67" fill="#4a4aff"/><rect x="429" y="185.67" width="1" height="35.67" fill="#0a0af5"/><rect x="432" y="185.67" width="1" height="35.67" fill="#4a4aff"/><rect x="438" y="185.67" width="1" height="35.67" fill="#8a8aff"/><rect x="443" y="185.67" width="1" height="35.67" fill="#4a4aff"/><rect x="449" y="185.67" width="1" height="35.67" fill="#c8c8ff"/><rect x="459" y="185.67" width="1" height="35.67" fill="#4a4aff"/><rect x="462" y="185.67" width="1" height="35.67" fill="#4a4aff"/><rect x="464" y="185.67" width="1" height="35.67" fill="#0a0af5"/><rect x="497" y="185.67" width="1" height="35.67" fill="#464646"/><rect x="531" y="185.67" width="1" height="35.67" fill="#111111"/><rect x="551" y="185.67" width="1" height="35.67" fill="#858585"/><rect x="561" y="185.67" width="1" height="35.67" fill="#464646"/><rect x="571" y="185.67" width="1" height="35.67" fill="#0a0af5"/><rect x="662" y="185.67" width="1" height="35.67" fill="#111111"/>
<line x1="379.8" y1="257.0" x2="686.4" y2="257.0" stroke="#1010a0" stroke-width="1.4"/>
<path d="M371.3 150.0H686.4V257.0" fill="none" stroke="#111" stroke-width="1.6"/>
<path d="M379.8 150.0V264.5" fill="none" stroke="#111" stroke-width="1.5"/>
<path d="M371.3 257.00H379.8" stroke="#111" stroke-width="1.3"/>
<path d="M371.3 221.33H379.8" stroke="#111" stroke-width="1.3"/>
<path d="M371.3 185.67H379.8" stroke="#111" stroke-width="1.3"/>
<path d="M441.12 257.0V264.5" stroke="#111" stroke-width="1.3"/>
<path d="M502.44 257.0V264.5" stroke="#111" stroke-width="1.3"/>
<path d="M563.76 257.0V264.5" stroke="#111" stroke-width="1.3"/>
<path d="M625.08 257.0V264.5" stroke="#111" stroke-width="1.3"/>
<path d="M686.40 257.0V264.5" stroke="#111" stroke-width="1.3"/>
<text class="t" x="361.73" y="261.00" textLength="9.43" lengthAdjust="spacingAndGlyphs">0</text>
<text class="t" x="361.87" y="225.33" textLength="9.43" lengthAdjust="spacingAndGlyphs">1</text>
<text class="t" x="361.87" y="189.67" textLength="9.43" lengthAdjust="spacingAndGlyphs">2</text>
<text class="t" x="361.73" y="154.00" textLength="9.43" lengthAdjust="spacingAndGlyphs">3</text>
<text class="t" x="375.60" y="278.60" textLength="9.27" lengthAdjust="spacingAndGlyphs">0</text>
<text class="t" x="431.86" y="278.60" textLength="19.03" lengthAdjust="spacingAndGlyphs">20</text>
<text class="t" x="493.40" y="278.60" textLength="19.03" lengthAdjust="spacingAndGlyphs">40</text>
<text class="t" x="554.50" y="278.60" textLength="19.03" lengthAdjust="spacingAndGlyphs">60</text>
<text class="t" x="615.90" y="278.60" textLength="19.03" lengthAdjust="spacingAndGlyphs">80</text>
<text class="t" x="672.88" y="278.60" textLength="27.21" lengthAdjust="spacingAndGlyphs">100</text>
<ellipse cx="394.05" cy="161.8" rx="11.55" ry="10.1" fill="#d9d9d9"/>
<text class="l" x="388.67" y="166.7" style="font-size:17.89px" textLength="10.98" lengthAdjust="spacingAndGlyphs">E</text>
<text class="h" x="437.27" y="167.3" fill="#111" style="font-size:14.0px" textLength="66.85" lengthAdjust="spacingAndGlyphs">Ref/HDAC6</text>
<text class="h" x="534.24" y="167.3" fill="#1f78d1" style="font-size:14.0px" textLength="112.65" lengthAdjust="spacingAndGlyphs">Capmatinib/HDAC6</text>
<rect x="383" y="364.57" width="2" height="35.83" fill="#0a0af5"/><rect x="385" y="364.57" width="1" height="35.83" fill="#4a4aff"/><rect x="386" y="364.57" width="3" height="35.83" fill="#0a0af5"/><rect x="389" y="364.57" width="1" height="35.83" fill="#8a8aff"/><rect x="390" y="364.57" width="1" height="35.83" fill="#0a0af5"/><rect x="391" y="364.57" width="1" height="35.83" fill="#8a8aff"/><rect x="392" y="364.57" width="2" height="35.83" fill="#0a0af5"/><rect x="394" y="364.57" width="1" height="35.83" fill="#858585"/><rect x="395" y="364.57" width="1" height="35.83" fill="#111111"/><rect x="396" y="364.57" width="1" height="35.83" fill="#0000b0"/><rect x="397" y="364.57" width="1" height="35.83" fill="#4a4aff"/><rect x="398" y="364.57" width="28" height="35.83" fill="#0a0af5"/><rect x="426" y="364.57" width="1" height="35.83" fill="#4a4aff"/><rect x="427" y="364.57" width="9" height="35.83" fill="#0a0af5"/><rect x="436" y="364.57" width="1" height="35.83" fill="#8a8aff"/><rect x="437" y="364.57" width="2" height="35.83" fill="#4a4aff"/><rect x="439" y="364.57" width="4" height="35.83" fill="#0a0af5"/><rect x="443" y="364.57" width="1" height="35.83" fill="#0000b0"/><rect x="444" y="364.57" width="2" height="35.83" fill="#0a0af5"/><rect x="446" y="364.57" width="1" height="35.83" fill="#8a8aff"/><rect x="447" y="364.57" width="1" height="35.83" fill="#858585"/><rect x="448" y="364.57" width="2" height="35.83" fill="#0a0af5"/><rect x="450" y="364.57" width="1" height="35.83" fill="#0000b0"/><rect x="451" y="364.57" width="4" height="35.83" fill="#0a0af5"/><rect x="455" y="364.57" width="1" height="35.83" fill="#0000b0"/><rect x="456" y="364.57" width="3" height="35.83" fill="#0a0af5"/><rect x="459" y="364.57" width="1" height="35.83" fill="#4a4aff"/><rect x="460" y="364.57" width="7" height="35.83" fill="#0a0af5"/><rect x="467" y="364.57" width="1" height="35.83" fill="#8a8aff"/><rect x="468" y="364.57" width="6" height="35.83" fill="#0a0af5"/><rect x="474" y="364.57" width="1" height="35.83" fill="#4a4aff"/><rect x="475" y="364.57" width="4" height="35.83" fill="#0a0af5"/><rect x="479" y="364.57" width="1" height="35.83" fill="#8a8aff"/><rect x="480" y="364.57" width="1" height="35.83" fill="#c8c8ff"/><rect x="481" y="364.57" width="2" height="35.83" fill="#0a0af5"/><rect x="483" y="364.57" width="1" height="35.83" fill="#4a4aff"/><rect x="484" y="364.57" width="1" height="35.83" fill="#c8c8ff"/><rect x="485" y="364.57" width="1" height="35.83" fill="#ff4a2a"/><rect x="486" y="364.57" width="3" height="35.83" fill="#0a0af5"/><rect x="489" y="364.57" width="1" height="35.83" fill="#c8c8ff"/><rect x="490" y="364.57" width="1" height="35.83" fill="#0a0af5"/><rect x="491" y="364.57" width="1" height="35.83" fill="#858585"/><rect x="492" y="364.57" width="1" height="35.83" fill="#c4c4c4"/><rect x="493" y="364.57" width="1" height="35.83" fill="#ff4a2a"/><rect x="494" y="364.57" width="1" height="35.83" fill="#0000b0"/><rect x="495" y="364.57" width="2" height="35.83" fill="#0a0af5"/><rect x="497" y="364.57" width="1" height="35.83" fill="#ff1010"/><rect x="498" y="364.57" width="1" height="35.83" fill="#0000b0"/><rect x="499" y="364.57" width="1" height="35.83" fill="#0a0af5"/><rect x="500" y="364.57" width="1" height="35.83" fill="#111111"/><rect x="501" y="364.57" width="2" height="35.83" fill="#858585"/><rect x="503" y="364.57" width="1" height="35.83" fill="#111111"/><rect x="504" y="364.57" width="1" height="35.83" fill="#8c0a0a"/><rect x="505" y="364.57" width="1" height="35.83" fill="#6a1a8a"/><rect x="506" y="364.57" width="1" height="35.83" fill="#ff9a9a"/><rect x="508" y="364.57" width="1" height="35.83" fill="#0a0af5"/><rect x="509" y="364.57" width="1" height="35.83" fill="#00004a"/><rect x="510" y="364.57" width="1" height="35.83" fill="#0000b0"/><rect x="511" y="364.57" width="5" height="35.83" fill="#0a0af5"/><rect x="516" y="364.57" width="1" height="35.83" fill="#c4c4c4"/><rect x="517" y="364.57" width="1" height="35.83" fill="#ff1010"/><rect x="518" y="364.57" width="1" height="35.83" fill="#8c0a0a"/><rect x="519" y="364.57" width="1" height="35.83" fill="#858585"/><rect x="520" y="364.57" width="1" height="35.83" fill="#0000b0"/><rect x="521" y="364.57" width="1" height="35.83" fill="#6a1a8a"/><rect x="522" y="364.57" width="3" height="35.83" fill="#8c0a0a"/><rect x="525" y="364.57" width="1" height="35.83" fill="#6a1a8a"/><rect x="526" y="364.57" width="1" height="35.83" fill="#b050c8"/><rect x="527" y="364.57" width="1" height="35.83" fill="#8c0a0a"/><rect x="528" y="364.57" width="1" height="35.83" fill="#ff1010"/><rect x="529" y="364.57" width="1" height="35.83" fill="#111111"/><rect x="530" y="364.57" width="1" height="35.83" fill="#464646"/><rect x="531" y="364.57" width="1" height="35.83" fill="#b050c8"/><rect x="532" y="364.57" width="3" height="35.83" fill="#00004a"/><rect x="535" y="364.57" width="2" height="35.83" fill="#6a1a8a"/><rect x="537" y="364.57" width="1" height="35.83" fill="#ff1010"/><rect x="538" y="364.57" width="1" height="35.83" fill="#111111"/><rect x="539" y="364.57" width="1" height="35.83" fill="#ff9a9a"/><rect x="541" y="364.57" width="1" height="35.83" fill="#8a8aff"/><rect x="542" y="364.57" width="2" height="35.83" fill="#4a4aff"/><rect x="544" y="364.57" width="1" height="35.83" fill="#8a8aff"/><rect x="545" y="364.57" width="1" height="35.83" fill="#4a4aff"/><rect x="546" y="364.57" width="1" height="35.83" fill="#8a8aff"/><rect x="547" y="364.57" width="1" height="35.83" fill="#6a1a8a"/><rect x="548" y="364.57" width="1" height="35.83" fill="#8c0a0a"/><rect x="549" y="364.57" width="2" height="35.83" fill="#6a1a8a"/><rect x="551" y="364.57" width="1" height="35.83" fill="#0a0af5"/><rect x="552" y="364.57" width="1" height="35.83" fill="#c4c4c4"/><rect x="553" y="364.57" width="1" height="35.83" fill="#0000b0"/><rect x="554" y="364.57" width="1" height="35.83" fill="#ff1010"/><rect x="555" y="364.57" width="2" height="35.83" fill="#0a0af5"/><rect x="557" y="364.57" width="1" height="35.83" fill="#8a8aff"/><rect x="558" y="364.57" width="2" height="35.83" fill="#0a0af5"/><rect x="560" y="364.57" width="1" height="35.83" fill="#8a8aff"/><rect x="561" y="364.57" width="1" height="35.83" fill="#c8c8ff"/><rect x="562" y="364.57" width="1" height="35.83" fill="#111111"/><rect x="563" y="364.57" width="1" height="35.83" fill="#464646"/><rect x="566" y="364.57" width="1" height="35.83" fill="#8a8aff"/><rect x="570" y="364.57" width="7" height="35.83" fill="#0a0af5"/><rect x="577" y="364.57" width="1" height="35.83" fill="#00004a"/><rect x="578" y="364.57" width="1" height="35.83" fill="#0a0af5"/><rect x="579" y="364.57" width="1" height="35.83" fill="#8a8aff"/><rect x="580" y="364.57" width="1" height="35.83" fill="#0a0af5"/><rect x="581" y="364.57" width="1" height="35.83" fill="#8a8aff"/><rect x="582" y="364.57" width="1" height="35.83" fill="#464646"/><rect x="583" y="364.57" width="1" height="35.83" fill="#4a4aff"/><rect x="584" y="364.57" width="2" height="35.83" fill="#0a0af5"/><rect x="586" y="364.57" width="1" height="35.83" fill="#c4c4c4"/><rect x="592" y="364.57" width="1" height="35.83" fill="#0a0af5"/><rect x="593" y="364.57" width="2" height="35.83" fill="#00004a"/><rect x="595" y="364.57" width="1" height="35.83" fill="#0a0af5"/><rect x="596" y="364.57" width="1" height="35.83" fill="#858585"/><rect x="597" y="364.57" width="1" height="35.83" fill="#8a8aff"/><rect x="598" y="364.57" width="1" height="35.83" fill="#0a0af5"/><rect x="599" y="364.57" width="1" height="35.83" fill="#c8c8ff"/><rect x="600" y="364.57" width="2" height="35.83" fill="#0a0af5"/><rect x="602" y="364.57" width="1" height="35.83" fill="#8a8aff"/><rect x="603" y="364.57" width="1" height="35.83" fill="#c8c8ff"/><rect x="604" y="364.57" width="1" height="35.83" fill="#4a4aff"/><rect x="605" y="364.57" width="2" height="35.83" fill="#0a0af5"/><rect x="607" y="364.57" width="1" height="35.83" fill="#8a8aff"/><rect x="608" y="364.57" width="2" height="35.83" fill="#0a0af5"/><rect x="610" y="364.57" width="1" height="35.83" fill="#0000b0"/><rect x="611" y="364.57" width="1" height="35.83" fill="#0a0af5"/><rect x="612" y="364.57" width="1" height="35.83" fill="#8a8aff"/><rect x="613" y="364.57" width="4" height="35.83" fill="#0a0af5"/><rect x="617" y="364.57" width="1" height="35.83" fill="#8a8aff"/><rect x="618" y="364.57" width="1" height="35.83" fill="#4a4aff"/><rect x="619" y="364.57" width="1" height="35.83" fill="#0a0af5"/><rect x="620" y="364.57" width="1" height="35.83" fill="#c8c8ff"/><rect x="622" y="364.57" width="1" height="35.83" fill="#c8c8ff"/><rect x="623" y="364.57" width="1" height="35.83" fill="#8a8aff"/><rect x="624" y="364.57" width="1" height="35.83" fill="#4a4aff"/><rect x="625" y="364.57" width="1" height="35.83" fill="#0a0af5"/><rect x="626" y="364.57" width="1" height="35.83" fill="#4a4aff"/><rect x="627" y="364.57" width="1" height="35.83" fill="#0a0af5"/><rect x="628" y="364.57" width="1" height="35.83" fill="#8a8aff"/><rect x="629" y="364.57" width="2" height="35.83" fill="#0a0af5"/><rect x="631" y="364.57" width="2" height="35.83" fill="#8a8aff"/><rect x="633" y="364.57" width="1" height="35.83" fill="#0a0af5"/><rect x="634" y="364.57" width="1" height="35.83" fill="#4a4aff"/><rect x="635" y="364.57" width="1" height="35.83" fill="#0a0af5"/><rect x="636" y="364.57" width="1" height="35.83" fill="#c8c8ff"/><rect x="637" y="364.57" width="2" height="35.83" fill="#0a0af5"/><rect x="639" y="364.57" width="1" height="35.83" fill="#c8c8ff"/><rect x="640" y="364.57" width="5" height="35.83" fill="#0a0af5"/><rect x="645" y="364.57" width="2" height="35.83" fill="#8a8aff"/><rect x="647" y="364.57" width="1" height="35.83" fill="#0a0af5"/><rect x="648" y="364.57" width="1" height="35.83" fill="#c8c8ff"/><rect x="649" y="364.57" width="2" height="35.83" fill="#0a0af5"/><rect x="651" y="364.57" width="1" height="35.83" fill="#8a8aff"/><rect x="652" y="364.57" width="3" height="35.83" fill="#0a0af5"/><rect x="655" y="364.57" width="1" height="35.83" fill="#8a8aff"/><rect x="656" y="364.57" width="3" height="35.83" fill="#0a0af5"/><rect x="659" y="364.57" width="4" height="35.83" fill="#0000b0"/><rect x="663" y="364.57" width="1" height="35.83" fill="#00004a"/><rect x="664" y="364.57" width="8" height="35.83" fill="#0a0af5"/><rect x="672" y="364.57" width="1" height="35.83" fill="#c8c8ff"/><rect x="673" y="364.57" width="2" height="35.83" fill="#0000b0"/><rect x="675" y="364.57" width="1" height="35.83" fill="#8a8aff"/><rect x="676" y="364.57" width="2" height="35.83" fill="#464646"/><rect x="678" y="364.57" width="1" height="35.83" fill="#8a8aff"/><rect x="679" y="364.57" width="7" height="35.83" fill="#0a0af5"/><rect x="686" y="364.57" width="2" height="35.83" fill="#00004a"/><rect x="394" y="382.48" width="1" height="17.92" fill="#0a0a0a"/><rect x="395" y="382.48" width="1" height="17.92" fill="#0a0a0a"/><rect x="384" y="328.73" width="1" height="35.83" fill="#8a8aff"/><rect x="399" y="328.73" width="2" height="35.83" fill="#0a0af5"/><rect x="406" y="328.73" width="1" height="35.83" fill="#4a4aff"/><rect x="412" y="328.73" width="1" height="35.83" fill="#0a0af5"/><rect x="417" y="328.73" width="1" height="35.83" fill="#8a8aff"/><rect x="419" y="328.73" width="1" height="35.83" fill="#0a0af5"/><rect x="421" y="328.73" width="3" height="35.83" fill="#0a0af5"/><rect x="426" y="328.73" width="1" height="35.83" fill="#0a0af5"/><rect x="427" y="328.73" width="1" height="35.83" fill="#4a4aff"/><rect x="431" y="328.73" width="1" height="35.83" fill="#0a0af5"/><rect x="434" y="328.73" width="1" height="35.83" fill="#4a4aff"/><rect x="440" y="328.73" width="1" height="35.83" fill="#8a8aff"/><rect x="445" y="328.73" width="1" height="35.83" fill="#4a4aff"/><rect x="451" y="328.73" width="1" height="35.83" fill="#c8c8ff"/><rect x="461" y="328.73" width="1" height="35.83" fill="#4a4aff"/><rect x="463" y="328.73" width="1" height="35.83" fill="#4a4aff"/><rect x="466" y="328.73" width="1" height="35.83" fill="#0a0af5"/><rect x="499" y="328.73" width="1" height="35.83" fill="#464646"/><rect x="533" y="328.73" width="1" height="35.83" fill="#111111"/><rect x="553" y="328.73" width="1" height="35.83" fill="#858585"/><rect x="563" y="328.73" width="1" height="35.83" fill="#464646"/><rect x="573" y="328.73" width="1" height="35.83" fill="#0a0af5"/><rect x="664" y="328.73" width="1" height="35.83" fill="#111111"/>
<line x1="381.5" y1="400.4" x2="688.5" y2="400.4" stroke="#202070" stroke-width="1.4"/>
<path d="M373.0 292.9H688.5V400.4" fill="none" stroke="#111" stroke-width="1.6"/>
<path d="M381.5 292.9V407.9" fill="none" stroke="#111" stroke-width="1.5"/>
<path d="M373.0 400.40H381.5" stroke="#111" stroke-width="1.3"/>
<path d="M373.0 364.57H381.5" stroke="#111" stroke-width="1.3"/>
<path d="M373.0 328.73H381.5" stroke="#111" stroke-width="1.3"/>
<path d="M442.90 400.4V407.9" stroke="#111" stroke-width="1.3"/>
<path d="M504.30 400.4V407.9" stroke="#111" stroke-width="1.3"/>
<path d="M565.70 400.4V407.9" stroke="#111" stroke-width="1.3"/>
<path d="M627.10 400.4V407.9" stroke="#111" stroke-width="1.3"/>
<path d="M688.50 400.4V407.9" stroke="#111" stroke-width="1.3"/>
<text class="t" x="363.43" y="404.40" textLength="9.43" lengthAdjust="spacingAndGlyphs">0</text>
<text class="t" x="363.57" y="368.57" textLength="9.43" lengthAdjust="spacingAndGlyphs">1</text>
<text class="t" x="363.57" y="332.73" textLength="9.43" lengthAdjust="spacingAndGlyphs">2</text>
<text class="t" x="363.43" y="296.90" textLength="9.43" lengthAdjust="spacingAndGlyphs">3</text>
<text class="t" x="377.30" y="422.00" textLength="9.27" lengthAdjust="spacingAndGlyphs">0</text>
<text class="t" x="433.64" y="422.00" textLength="19.03" lengthAdjust="spacingAndGlyphs">20</text>
<text class="t" x="495.26" y="422.00" textLength="19.03" lengthAdjust="spacingAndGlyphs">40</text>
<text class="t" x="556.44" y="422.00" textLength="19.03" lengthAdjust="spacingAndGlyphs">60</text>
<text class="t" x="617.92" y="422.00" textLength="19.03" lengthAdjust="spacingAndGlyphs">80</text>
<text class="t" x="674.98" y="422.00" textLength="27.21" lengthAdjust="spacingAndGlyphs">100</text>
<ellipse cx="396.3" cy="305.65" rx="11.4" ry="10.55" fill="#d9d9d9"/>
<text class="l" x="392.15" y="311.8" style="font-size:17.89px" textLength="10.84" lengthAdjust="spacingAndGlyphs">F</text>
<text class="h" x="446.38" y="308.9" fill="#ff0a0a" style="font-size:14.5px" textLength="65.91" lengthAdjust="spacingAndGlyphs">Bexarotene,</text>
<text class="h" x="514.74" y="308.9" fill="#1f78d1" style="font-size:14.5px" textLength="67.99" lengthAdjust="spacingAndGlyphs">Capmatinib,</text>
<text class="h" x="588.08" y="308.9" fill="#111" style="font-size:14.5px" textLength="67.11" lengthAdjust="spacingAndGlyphs">Ref/HDAC6</text>
<path d="M351.5 167.7V61" stroke="#000" stroke-width="2.2"/>
<path d="M351.5 54.4L355.2 62.2H347.8Z" fill="#000"/>
<path d="M352 252V359" stroke="#000" stroke-width="2.2"/>
<path d="M352 366.3L355.6 358.6H348.4Z" fill="#000"/>
<text x="0" y="0" transform="translate(356.7 210) rotate(-90)" text-anchor="middle" textLength="19.2" lengthAdjust="spacingAndGlyphs" style="font-family:'Liberation Sans',sans-serif;font-weight:bold;font-size:14px">Hb</text>
<path d="M220 432.6H318.6" stroke="#000" stroke-width="2.6"/>
<path d="M213.6 432.6L221.5 428.6V436.6Z" fill="#000"/>
<path d="M392.7 432.2H491" stroke="#000" stroke-width="2.6"/>
<path d="M498.2 432.2L490.5 428.4V436Z" fill="#000"/>
<text x="323.3" y="435.6" textLength="62.3" lengthAdjust="spacingAndGlyphs" style="font-family:'Liberation Sans',sans-serif;font-weight:bold;font-size:14.5px">Time [ns]</text>
</svg></body></html>
